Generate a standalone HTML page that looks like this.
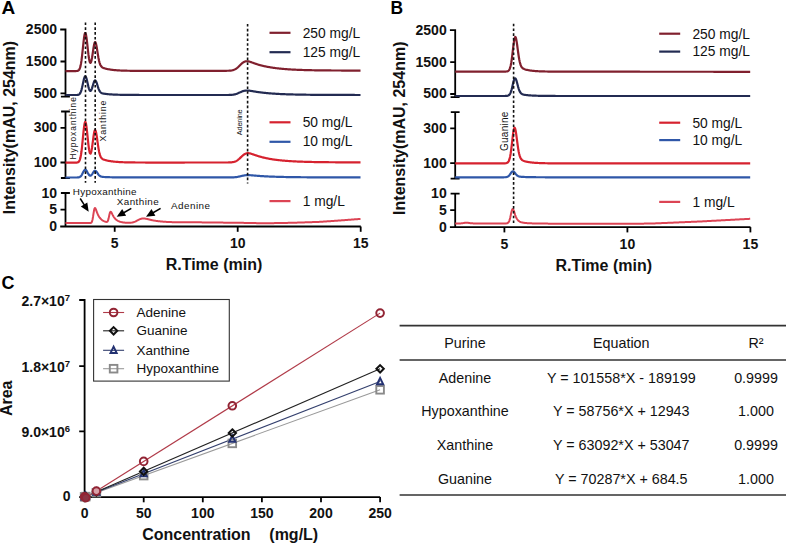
<!DOCTYPE html>
<html><head><meta charset="utf-8"><style>
html,body{margin:0;padding:0;background:#fff;}
svg{display:block;}
text{font-family:"Liberation Sans",sans-serif;}
.tb{font-size:14px;font-weight:bold;fill:#111;}
.tc{font-size:14px;font-weight:bold;fill:#111;}
.ttl{font-size:16px;font-weight:bold;fill:#111;}
.pl{font-size:18px;font-weight:bold;fill:#000;}
.leg{font-size:13.8px;fill:#111;}
.leg2{font-size:13.5px;fill:#111;}
.ann{font-size:8px;fill:#111;}
.ann2{font-size:9.9px;fill:#111;}
.tab{font-size:14.3px;fill:#111;}
</style></head>
<body><svg width="787" height="544" viewBox="0 0 787 544">
<text x="1.4" y="13.8" class="pl" style="font-size:19px">A</text>
<text x="390.6" y="13.8" class="pl" style="font-size:19px" textLength="12.6" lengthAdjust="spacingAndGlyphs">B</text>
<text x="1.5" y="288.9" class="pl">C</text>
<g transform="translate(0,0)">
<path d="M60.2,29.5 H65.5 V96.6 M60.5,61.5 H65.5 M60.5,93.4 H65.5 M60.9,96.6 H69.9" stroke="#000" stroke-width="1.8" fill="none"/>
<path d="M61.1,111.5 H69.9 M65.5,111.5 V178 M60.5,127.8 H65.5 M60.5,162.5 H65.5 M60.9,178 H69.9" stroke="#000" stroke-width="1.8" fill="none"/>
<path d="M60.9,193 H69.9 M65.5,193 V226.5 M60.5,209.6 H65.5 M60.2,226.5 H360.8" stroke="#000" stroke-width="1.8" fill="none"/>
<path d="M114.7,226.5 V231.8" stroke="#000" stroke-width="1.8" fill="none"/>
<path d="M237.7,226.5 V231.8" stroke="#000" stroke-width="1.8" fill="none"/>
<path d="M360.7,226.5 V231.8" stroke="#000" stroke-width="1.8" fill="none"/>
<text x="57.0" y="34.0" text-anchor="end" class="tb">2500</text>
<text x="57.0" y="66.0" text-anchor="end" class="tb">1500</text>
<text x="57.0" y="97.9" text-anchor="end" class="tb">500</text>
<text x="57.0" y="132.3" text-anchor="end" class="tb">300</text>
<text x="57.0" y="167.0" text-anchor="end" class="tb">100</text>
<text x="57.0" y="197.5" text-anchor="end" class="tb">10</text>
<text x="57.0" y="214.1" text-anchor="end" class="tb">5</text>
<text x="57.0" y="231.0" text-anchor="end" class="tb">0</text>
<text x="114.7" y="248" text-anchor="middle" class="tb">5</text>
<text x="237.7" y="248" text-anchor="middle" class="tb">10</text>
<text x="360.7" y="248" text-anchor="middle" class="tb">15</text>
<text x="214.0" y="270.3" text-anchor="middle" class="ttl">R.Time (min)</text>
<text transform="translate(14.5,127.5) rotate(-90)" text-anchor="middle" class="ttl">Intensity(mAU, 254nm)</text>
</g>
<path d="M269.5,32.8 H290.5" stroke="#80202e" stroke-width="2.2"/>
<text x="302.7" y="37.9" class="leg">250 mg/L</text>
<path d="M269.5,52.2 H290.5" stroke="#232b52" stroke-width="2.2"/>
<text x="302.7" y="56.6" class="leg">125 mg/L</text>
<path d="M269.5,122.3 H290.5" stroke="#d6222f" stroke-width="2.2"/>
<text x="302.7" y="126.9" class="leg">50 mg/L</text>
<path d="M269.5,141.8 H290.5" stroke="#2f57a8" stroke-width="2.2"/>
<text x="302.7" y="146.2" class="leg">10 mg/L</text>
<path d="M269.5,201.1 H290.5" stroke="#dc4454" stroke-width="2.2"/>
<text x="302.7" y="206.0" class="leg">1 mg/L</text>
<g transform="translate(0,0.6)">
<path d="M449.9,29.5 H455.2 V96.6 M450.2,61.5 H455.2 M450.2,93.4 H455.2 M450.59999999999997,96.6 H459.59999999999997" stroke="#000" stroke-width="1.8" fill="none"/>
<path d="M450.8,111.5 H459.59999999999997 M455.2,111.5 V178 M450.2,127.8 H455.2 M450.2,162.5 H455.2 M450.59999999999997,178 H459.59999999999997" stroke="#000" stroke-width="1.8" fill="none"/>
<path d="M450.59999999999997,193 H459.59999999999997 M455.2,193 V226.5 M450.2,209.6 H455.2 M449.9,226.5 H750.5" stroke="#000" stroke-width="1.8" fill="none"/>
<path d="M504.4,226.5 V231.8" stroke="#000" stroke-width="1.8" fill="none"/>
<path d="M627.4,226.5 V231.8" stroke="#000" stroke-width="1.8" fill="none"/>
<path d="M750.4,226.5 V231.8" stroke="#000" stroke-width="1.8" fill="none"/>
<text x="446.7" y="34.0" text-anchor="end" class="tb">2500</text>
<text x="446.7" y="66.0" text-anchor="end" class="tb">1500</text>
<text x="446.7" y="97.9" text-anchor="end" class="tb">500</text>
<text x="446.7" y="132.3" text-anchor="end" class="tb">300</text>
<text x="446.7" y="167.0" text-anchor="end" class="tb">100</text>
<text x="446.7" y="197.5" text-anchor="end" class="tb">10</text>
<text x="446.7" y="214.1" text-anchor="end" class="tb">5</text>
<text x="446.7" y="231.0" text-anchor="end" class="tb">0</text>
<text x="504.4" y="248" text-anchor="middle" class="tb">5</text>
<text x="627.4" y="248" text-anchor="middle" class="tb">10</text>
<text x="750.4" y="248" text-anchor="middle" class="tb">15</text>
<text x="603.7" y="270.3" text-anchor="middle" class="ttl">R.Time (min)</text>
<text transform="translate(405.2,127.6) rotate(-90)" text-anchor="middle" class="ttl">Intensity(mAU, 254nm)</text>
</g>
<path d="M659.2,33.7 H680.2" stroke="#80202e" stroke-width="2.2"/>
<text x="692.4" y="38.5" class="leg">250 mg/L</text>
<path d="M659.2,51.6 H680.2" stroke="#232b52" stroke-width="2.2"/>
<text x="692.4" y="56.3" class="leg">125 mg/L</text>
<path d="M659.2,122.7 H680.2" stroke="#d6222f" stroke-width="2.2"/>
<text x="692.4" y="127.8" class="leg">50 mg/L</text>
<path d="M659.2,140.1 H680.2" stroke="#2f57a8" stroke-width="2.2"/>
<text x="692.4" y="144.6" class="leg">10 mg/L</text>
<path d="M659.2,201.9 H680.2" stroke="#dc4454" stroke-width="2.2"/>
<text x="692.4" y="206.9" class="leg">1 mg/L</text>
<path d="M65.5,71.20 L66.0,71.19 L66.5,71.19 L67.0,71.18 L67.5,71.17 L68.0,71.17 L68.5,71.16 L69.0,71.15 L69.5,71.14 L70.0,71.14 L70.5,71.13 L71.0,71.12 L71.5,71.12 L72.0,71.11 L72.5,71.10 L73.0,71.10 L73.5,71.09 L74.0,71.08 L74.5,71.07 L75.0,71.07 L75.5,71.06 L76.0,71.04 L76.5,71.01 L77.0,70.96 L77.5,70.88 L78.0,70.71 L78.5,70.42 L79.0,69.93 L79.5,69.13 L80.0,67.90 L80.5,66.12 L81.0,63.64 L81.5,60.41 L82.0,56.45 L82.5,51.89 L83.0,47.03 L83.5,42.25 L84.0,38.04 L84.5,34.88 L85.0,33.14 L85.5,33.05 L86.0,34.60 L86.5,37.57 L87.0,41.57 L87.5,46.13 L88.0,50.75 L88.5,54.99 L89.0,58.50 L89.5,61.05 L90.0,62.53 L90.5,62.88 L91.0,62.15 L91.5,60.43 L92.0,57.88 L92.5,54.73 L93.0,51.31 L93.5,47.97 L94.0,45.10 L94.5,43.06 L95.0,42.11 L95.5,42.35 L96.0,43.72 L96.5,46.00 L97.0,48.89 L97.5,52.06 L98.0,55.19 L98.5,58.05 L99.0,60.50 L99.5,62.49 L100.0,64.04 L100.5,65.20 L101.0,66.05 L101.5,66.67 L102.0,67.13 L102.5,67.47 L103.0,67.74 L103.5,67.96 L104.0,68.14 L104.5,68.31 L105.0,68.46 L105.5,68.60 L106.0,68.73 L106.5,68.85 L107.0,68.97 L107.5,69.07 L108.0,69.18 L108.5,69.27 L109.0,69.36 L109.5,69.45 L110.0,69.53 L110.5,69.61 L111.0,69.68 L111.5,69.75 L112.0,69.82 L112.5,69.88 L113.0,69.94 L113.5,69.99 L114.0,70.04 L114.5,70.09 L115.0,70.14 L115.5,70.18 L116.0,70.22 L116.5,70.26 L117.0,70.30 L117.5,70.33 L118.0,70.37 L118.5,70.40 L119.0,70.43 L119.5,70.45 L120.0,70.48 L120.5,70.50 L121.0,70.53 L121.5,70.55 L122.0,70.57 L122.5,70.59 L123.0,70.61 L123.5,70.63 L124.0,70.64 L124.5,70.66 L125.0,70.67 L125.5,70.69 L126.0,70.70 L126.5,70.71 L127.0,70.72 L127.5,70.73 L128.0,70.74 L128.5,70.75 L129.0,70.76 L129.5,70.77 L130.0,70.78 L130.5,70.79 L131.0,70.79 L131.5,70.80 L132.0,70.81 L132.5,70.81 L133.0,70.82 L133.5,70.82 L134.0,70.83 L134.5,70.83 L135.0,70.84 L135.5,70.84 L136.0,70.84 L136.5,70.85 L137.0,70.85 L137.5,70.85 L138.0,70.86 L138.5,70.86 L139.0,70.86 L139.5,70.86 L140.0,70.87 L140.5,70.87 L141.0,70.87 L141.5,70.87 L142.0,70.87 L142.5,70.87 L143.0,70.88 L143.5,70.88 L144.0,70.88 L144.5,70.88 L145.0,70.88 L145.5,70.88 L146.0,70.88 L146.5,70.88 L147.0,70.88 L147.5,70.88 L148.0,70.88 L148.5,70.88 L149.0,70.88 L149.5,70.88 L150.0,70.88 L150.5,70.88 L151.0,70.88 L151.5,70.88 L152.0,70.88 L152.5,70.88 L153.0,70.88 L153.5,70.88 L154.0,70.88 L154.5,70.88 L155.0,70.88 L155.5,70.88 L156.0,70.88 L156.5,70.88 L157.0,70.88 L157.5,70.88 L158.0,70.88 L158.5,70.88 L159.0,70.88 L159.5,70.88 L160.0,70.88 L160.5,70.88 L161.0,70.88 L161.5,70.88 L162.0,70.88 L162.5,70.88 L163.0,70.88 L163.5,70.88 L164.0,70.88 L164.5,70.88 L165.0,70.88 L165.5,70.88 L166.0,70.87 L166.5,70.87 L167.0,70.87 L167.5,70.87 L168.0,70.87 L168.5,70.87 L169.0,70.87 L169.5,70.87 L170.0,70.87 L170.5,70.87 L171.0,70.87 L171.5,70.87 L172.0,70.87 L172.5,70.87 L173.0,70.87 L173.5,70.87 L174.0,70.86 L174.5,70.86 L175.0,70.86 L175.5,70.86 L176.0,70.86 L176.5,70.86 L177.0,70.86 L177.5,70.86 L178.0,70.86 L178.5,70.86 L179.0,70.86 L179.5,70.86 L180.0,70.86 L180.5,70.86 L181.0,70.86 L181.5,70.85 L182.0,70.85 L182.5,70.85 L183.0,70.85 L183.5,70.85 L184.0,70.85 L184.5,70.85 L185.0,70.85 L185.5,70.85 L186.0,70.85 L186.5,70.85 L187.0,70.85 L187.5,70.85 L188.0,70.85 L188.5,70.85 L189.0,70.84 L189.5,70.84 L190.0,70.84 L190.5,70.84 L191.0,70.84 L191.5,70.84 L192.0,70.84 L192.5,70.84 L193.0,70.84 L193.5,70.84 L194.0,70.84 L194.5,70.84 L195.0,70.84 L195.5,70.84 L196.0,70.83 L196.5,70.83 L197.0,70.83 L197.5,70.83 L198.0,70.83 L198.5,70.83 L199.0,70.83 L199.5,70.83 L200.0,70.83 L200.5,70.83 L201.0,70.83 L201.5,70.83 L202.0,70.83 L202.5,70.83 L203.0,70.82 L203.5,70.82 L204.0,70.82 L204.5,70.82 L205.0,70.82 L205.5,70.82 L206.0,70.82 L206.5,70.82 L207.0,70.82 L207.5,70.82 L208.0,70.82 L208.5,70.82 L209.0,70.82 L209.5,70.82 L210.0,70.81 L210.5,70.81 L211.0,70.81 L211.5,70.81 L212.0,70.81 L212.5,70.81 L213.0,70.81 L213.5,70.81 L214.0,70.81 L214.5,70.81 L215.0,70.81 L215.5,70.81 L216.0,70.81 L216.5,70.81 L217.0,70.80 L217.5,70.80 L218.0,70.80 L218.5,70.80 L219.0,70.80 L219.5,70.80 L220.0,70.80 L220.5,70.80 L221.0,70.80 L221.5,70.80 L222.0,70.80 L222.5,70.80 L223.0,70.80 L223.5,70.79 L224.0,70.79 L224.5,70.79 L225.0,70.79 L225.5,70.79 L226.0,70.78 L226.5,70.78 L227.0,70.77 L227.5,70.76 L228.0,70.75 L228.5,70.74 L229.0,70.72 L229.5,70.69 L230.0,70.66 L230.5,70.61 L231.0,70.56 L231.5,70.49 L232.0,70.40 L232.5,70.29 L233.0,70.16 L233.5,70.01 L234.0,69.82 L234.5,69.61 L235.0,69.36 L235.5,69.08 L236.0,68.76 L236.5,68.41 L237.0,68.02 L237.5,67.60 L238.0,67.16 L238.5,66.70 L239.0,66.21 L239.5,65.72 L240.0,65.22 L240.5,64.73 L241.0,64.25 L241.5,63.79 L242.0,63.35 L242.5,62.95 L243.0,62.58 L243.5,62.26 L244.0,61.98 L244.5,61.74 L245.0,61.56 L245.5,61.42 L246.0,61.33 L246.5,61.27 L247.0,61.26 L247.5,61.29 L248.0,61.34 L248.5,61.43 L249.0,61.54 L249.5,61.66 L250.0,61.81 L250.5,61.96 L251.0,62.13 L251.5,62.30 L252.0,62.48 L252.5,62.66 L253.0,62.84 L253.5,63.02 L254.0,63.20 L254.5,63.37 L255.0,63.55 L255.5,63.72 L256.0,63.89 L256.5,64.05 L257.0,64.22 L257.5,64.37 L258.0,64.53 L258.5,64.68 L259.0,64.82 L259.5,64.97 L260.0,65.11 L260.5,65.24 L261.0,65.38 L261.5,65.51 L262.0,65.63 L262.5,65.76 L263.0,65.88 L263.5,65.99 L264.0,66.11 L264.5,66.22 L265.0,66.33 L265.5,66.44 L266.0,66.54 L266.5,66.64 L267.0,66.74 L267.5,66.84 L268.0,66.93 L268.5,67.02 L269.0,67.11 L269.5,67.20 L270.0,67.28 L270.5,67.37 L271.0,67.45 L271.5,67.53 L272.0,67.61 L272.5,67.68 L273.0,67.75 L273.5,67.83 L274.0,67.90 L274.5,67.96 L275.0,68.03 L275.5,68.09 L276.0,68.16 L276.5,68.22 L277.0,68.28 L277.5,68.34 L278.0,68.40 L278.5,68.45 L279.0,68.51 L279.5,68.56 L280.0,68.61 L280.5,68.66 L281.0,68.71 L281.5,68.76 L282.0,68.81 L282.5,68.85 L283.0,68.90 L283.5,68.94 L284.0,68.98 L284.5,69.02 L285.0,69.06 L285.5,69.10 L286.0,69.14 L286.5,69.18 L287.0,69.21 L287.5,69.25 L288.0,69.28 L288.5,69.32 L289.0,69.35 L289.5,69.38 L290.0,69.41 L290.5,69.45 L291.0,69.48 L291.5,69.50 L292.0,69.53 L292.5,69.56 L293.0,69.59 L293.5,69.61 L294.0,69.64 L294.5,69.66 L295.0,69.69 L295.5,69.71 L296.0,69.74 L296.5,69.76 L297.0,69.78 L297.5,69.80 L298.0,69.82 L298.5,69.84 L299.0,69.86 L299.5,69.88 L300.0,69.90 L300.5,69.92 L301.0,69.94 L301.5,69.95 L302.0,69.97 L302.5,69.99 L303.0,70.00 L303.5,70.02 L304.0,70.04 L304.5,70.05 L305.0,70.07 L305.5,70.08 L306.0,70.09 L306.5,70.11 L307.0,70.12 L307.5,70.13 L308.0,70.15 L308.5,70.16 L309.0,70.17 L309.5,70.18 L310.0,70.19 L310.5,70.20 L311.0,70.21 L311.5,70.22 L312.0,70.23 L312.5,70.24 L313.0,70.25 L313.5,70.26 L314.0,70.27 L314.5,70.28 L315.0,70.29 L315.5,70.30 L316.0,70.31 L316.5,70.31 L317.0,70.32 L317.5,70.33 L318.0,70.34 L318.5,70.34 L319.0,70.35 L319.5,70.36 L320.0,70.36 L320.5,70.37 L321.0,70.38 L321.5,70.38 L322.0,70.39 L322.5,70.40 L323.0,70.40 L323.5,70.41 L324.0,70.41 L324.5,70.42 L325.0,70.42 L325.5,70.43 L326.0,70.43 L326.5,70.44 L327.0,70.44 L327.5,70.44 L328.0,70.45 L328.5,70.45 L329.0,70.46 L329.5,70.46 L330.0,70.46 L330.5,70.47 L331.0,70.47 L331.5,70.48 L332.0,70.48 L332.5,70.48 L333.0,70.48 L333.5,70.49 L334.0,70.49 L334.5,70.49 L335.0,70.50 L335.5,70.50 L336.0,70.50 L336.5,70.50 L337.0,70.51 L337.5,70.51 L338.0,70.51 L338.5,70.51 L339.0,70.52 L339.5,70.52 L340.0,70.52 L340.5,70.52 L341.0,70.52 L341.5,70.53 L342.0,70.53 L342.5,70.53 L343.0,70.53 L343.5,70.53 L344.0,70.53 L344.5,70.54 L345.0,70.54 L345.5,70.54 L346.0,70.54 L346.5,70.54 L347.0,70.54 L347.5,70.54 L348.0,70.54 L348.5,70.55 L349.0,70.55 L349.5,70.55 L350.0,70.55 L350.5,70.55 L351.0,70.55 L351.5,70.55 L352.0,70.55 L352.5,70.55 L353.0,70.55 L353.5,70.55 L354.0,70.55 L354.5,70.56 L355.0,70.56 L355.5,70.56 L356.0,70.56 L356.5,70.56 L357.0,70.56 L357.5,70.56 L358.0,70.56 L358.5,70.56 L359.0,70.56 L359.5,70.56 L360.0,70.56 L360.5,70.56" fill="none" stroke="#80202e" stroke-width="2.2" stroke-linejoin="round" />
<path d="M65.5,95.00 L66.0,95.00 L66.5,95.00 L67.0,95.00 L67.5,95.00 L68.0,95.00 L68.5,95.00 L69.0,95.00 L69.5,95.00 L70.0,95.00 L70.5,95.00 L71.0,95.00 L71.5,95.00 L72.0,95.00 L72.5,95.00 L73.0,95.00 L73.5,95.00 L74.0,95.00 L74.5,95.00 L75.0,95.00 L75.5,95.00 L76.0,94.99 L76.5,94.98 L77.0,94.96 L77.5,94.92 L78.0,94.84 L78.5,94.71 L79.0,94.47 L79.5,94.08 L80.0,93.48 L80.5,92.60 L81.0,91.39 L81.5,89.81 L82.0,87.86 L82.5,85.62 L83.0,83.24 L83.5,80.89 L84.0,78.83 L84.5,77.27 L85.0,76.42 L85.5,76.38 L86.0,77.14 L86.5,78.59 L87.0,80.56 L87.5,82.80 L88.0,85.06 L88.5,87.13 L89.0,88.84 L89.5,90.08 L90.0,90.78 L90.5,90.92 L91.0,90.52 L91.5,89.62 L92.0,88.31 L92.5,86.70 L93.0,84.96 L93.5,83.28 L94.0,81.84 L94.5,80.83 L95.0,80.37 L95.5,80.52 L96.0,81.25 L96.5,82.43 L97.0,83.92 L97.5,85.55 L98.0,87.15 L98.5,88.61 L99.0,89.86 L99.5,90.87 L100.0,91.65 L100.5,92.24 L101.0,92.67 L101.5,92.98 L102.0,93.20 L102.5,93.37 L103.0,93.50 L103.5,93.60 L104.0,93.69 L104.5,93.77 L105.0,93.84 L105.5,93.90 L106.0,93.96 L106.5,94.02 L107.0,94.07 L107.5,94.12 L108.0,94.17 L108.5,94.22 L109.0,94.26 L109.5,94.30 L110.0,94.34 L110.5,94.37 L111.0,94.41 L111.5,94.44 L112.0,94.47 L112.5,94.50 L113.0,94.53 L113.5,94.55 L114.0,94.58 L114.5,94.60 L115.0,94.62 L115.5,94.64 L116.0,94.66 L116.5,94.68 L117.0,94.70 L117.5,94.72 L118.0,94.73 L118.5,94.75 L119.0,94.76 L119.5,94.77 L120.0,94.78 L120.5,94.80 L121.0,94.81 L121.5,94.82 L122.0,94.83 L122.5,94.84 L123.0,94.85 L123.5,94.85 L124.0,94.86 L124.5,94.87 L125.0,94.88 L125.5,94.88 L126.0,94.89 L126.5,94.90 L127.0,94.90 L127.5,94.91 L128.0,94.91 L128.5,94.92 L129.0,94.92 L129.5,94.93 L130.0,94.93 L130.5,94.93 L131.0,94.94 L131.5,94.94 L132.0,94.94 L132.5,94.95 L133.0,94.95 L133.5,94.95 L134.0,94.96 L134.5,94.96 L135.0,94.96 L135.5,94.96 L136.0,94.96 L136.5,94.97 L137.0,94.97 L137.5,94.97 L138.0,94.97 L138.5,94.97 L139.0,94.97 L139.5,94.98 L140.0,94.98 L140.5,94.98 L141.0,94.98 L141.5,94.98 L142.0,94.98 L142.5,94.98 L143.0,94.98 L143.5,94.98 L144.0,94.99 L144.5,94.99 L145.0,94.99 L145.5,94.99 L146.0,94.99 L146.5,94.99 L147.0,94.99 L147.5,94.99 L148.0,94.99 L148.5,94.99 L149.0,94.99 L149.5,94.99 L150.0,94.99 L150.5,94.99 L151.0,94.99 L151.5,94.99 L152.0,94.99 L152.5,94.99 L153.0,94.99 L153.5,95.00 L154.0,95.00 L154.5,95.00 L155.0,95.00 L155.5,95.00 L156.0,95.00 L156.5,95.00 L157.0,95.00 L157.5,95.00 L158.0,95.00 L158.5,95.00 L159.0,95.00 L159.5,95.00 L160.0,95.00 L160.5,95.00 L161.0,95.00 L161.5,95.00 L162.0,95.00 L162.5,95.00 L163.0,95.00 L163.5,95.00 L164.0,95.00 L164.5,95.00 L165.0,95.00 L165.5,95.00 L166.0,95.00 L166.5,95.00 L167.0,95.00 L167.5,95.00 L168.0,95.00 L168.5,95.00 L169.0,95.00 L169.5,95.00 L170.0,95.00 L170.5,95.00 L171.0,95.00 L171.5,95.00 L172.0,95.00 L172.5,95.00 L173.0,95.00 L173.5,95.00 L174.0,95.00 L174.5,95.00 L175.0,95.00 L175.5,95.00 L176.0,95.00 L176.5,95.00 L177.0,95.00 L177.5,95.00 L178.0,95.00 L178.5,95.00 L179.0,95.00 L179.5,95.00 L180.0,95.00 L180.5,95.00 L181.0,95.00 L181.5,95.00 L182.0,95.00 L182.5,95.00 L183.0,95.00 L183.5,95.00 L184.0,95.00 L184.5,95.00 L185.0,95.00 L185.5,95.00 L186.0,95.00 L186.5,95.00 L187.0,95.00 L187.5,95.00 L188.0,95.00 L188.5,95.00 L189.0,95.00 L189.5,95.00 L190.0,95.00 L190.5,95.00 L191.0,95.00 L191.5,95.00 L192.0,95.00 L192.5,95.00 L193.0,95.00 L193.5,95.00 L194.0,95.00 L194.5,95.00 L195.0,95.00 L195.5,95.00 L196.0,95.00 L196.5,95.00 L197.0,95.00 L197.5,95.00 L198.0,95.00 L198.5,95.00 L199.0,95.00 L199.5,95.00 L200.0,95.00 L200.5,95.00 L201.0,95.00 L201.5,95.00 L202.0,95.00 L202.5,95.00 L203.0,95.00 L203.5,95.00 L204.0,95.00 L204.5,95.00 L205.0,95.00 L205.5,95.00 L206.0,95.00 L206.5,95.00 L207.0,95.00 L207.5,95.00 L208.0,95.00 L208.5,95.00 L209.0,95.00 L209.5,95.00 L210.0,95.00 L210.5,95.00 L211.0,95.00 L211.5,95.00 L212.0,95.00 L212.5,95.00 L213.0,95.00 L213.5,95.00 L214.0,95.00 L214.5,95.00 L215.0,95.00 L215.5,95.00 L216.0,95.00 L216.5,95.00 L217.0,95.00 L217.5,95.00 L218.0,95.00 L218.5,95.00 L219.0,95.00 L219.5,95.00 L220.0,95.00 L220.5,95.00 L221.0,95.00 L221.5,95.00 L222.0,95.00 L222.5,95.00 L223.0,95.00 L223.5,95.00 L224.0,95.00 L224.5,95.00 L225.0,95.00 L225.5,95.00 L226.0,95.00 L226.5,94.99 L227.0,94.99 L227.5,94.99 L228.0,94.98 L228.5,94.98 L229.0,94.97 L229.5,94.95 L230.0,94.94 L230.5,94.92 L231.0,94.89 L231.5,94.86 L232.0,94.82 L232.5,94.77 L233.0,94.71 L233.5,94.63 L234.0,94.55 L234.5,94.44 L235.0,94.33 L235.5,94.19 L236.0,94.04 L236.5,93.88 L237.0,93.69 L237.5,93.50 L238.0,93.29 L238.5,93.07 L239.0,92.84 L239.5,92.61 L240.0,92.37 L240.5,92.14 L241.0,91.91 L241.5,91.69 L242.0,91.49 L242.5,91.29 L243.0,91.12 L243.5,90.97 L244.0,90.84 L244.5,90.73 L245.0,90.64 L245.5,90.57 L246.0,90.53 L246.5,90.51 L247.0,90.50 L247.5,90.51 L248.0,90.54 L248.5,90.58 L249.0,90.63 L249.5,90.69 L250.0,90.76 L250.5,90.83 L251.0,90.91 L251.5,91.00 L252.0,91.08 L252.5,91.16 L253.0,91.25 L253.5,91.34 L254.0,91.42 L254.5,91.51 L255.0,91.59 L255.5,91.67 L256.0,91.75 L256.5,91.83 L257.0,91.91 L257.5,91.98 L258.0,92.05 L258.5,92.13 L259.0,92.20 L259.5,92.26 L260.0,92.33 L260.5,92.39 L261.0,92.46 L261.5,92.52 L262.0,92.58 L262.5,92.64 L263.0,92.70 L263.5,92.75 L264.0,92.81 L264.5,92.86 L265.0,92.91 L265.5,92.96 L266.0,93.01 L266.5,93.06 L267.0,93.11 L267.5,93.15 L268.0,93.20 L268.5,93.24 L269.0,93.29 L269.5,93.33 L270.0,93.37 L270.5,93.41 L271.0,93.45 L271.5,93.48 L272.0,93.52 L272.5,93.56 L273.0,93.59 L273.5,93.63 L274.0,93.66 L274.5,93.69 L275.0,93.72 L275.5,93.76 L276.0,93.79 L276.5,93.82 L277.0,93.84 L277.5,93.87 L278.0,93.90 L278.5,93.93 L279.0,93.95 L279.5,93.98 L280.0,94.00 L280.5,94.03 L281.0,94.05 L281.5,94.07 L282.0,94.10 L282.5,94.12 L283.0,94.14 L283.5,94.16 L284.0,94.18 L284.5,94.20 L285.0,94.22 L285.5,94.24 L286.0,94.26 L286.5,94.28 L287.0,94.29 L287.5,94.31 L288.0,94.33 L288.5,94.34 L289.0,94.36 L289.5,94.38 L290.0,94.39 L290.5,94.41 L291.0,94.42 L291.5,94.43 L292.0,94.45 L292.5,94.46 L293.0,94.47 L293.5,94.49 L294.0,94.50 L294.5,94.51 L295.0,94.52 L295.5,94.54 L296.0,94.55 L296.5,94.56 L297.0,94.57 L297.5,94.58 L298.0,94.59 L298.5,94.60 L299.0,94.61 L299.5,94.62 L300.0,94.63 L300.5,94.64 L301.0,94.65 L301.5,94.65 L302.0,94.66 L302.5,94.67 L303.0,94.68 L303.5,94.69 L304.0,94.69 L304.5,94.70 L305.0,94.71 L305.5,94.72 L306.0,94.72 L306.5,94.73 L307.0,94.74 L307.5,94.74 L308.0,94.75 L308.5,94.76 L309.0,94.76 L309.5,94.77 L310.0,94.77 L310.5,94.78 L311.0,94.78 L311.5,94.79 L312.0,94.79 L312.5,94.80 L313.0,94.80 L313.5,94.81 L314.0,94.81 L314.5,94.82 L315.0,94.82 L315.5,94.83 L316.0,94.83 L316.5,94.83 L317.0,94.84 L317.5,94.84 L318.0,94.85 L318.5,94.85 L319.0,94.85 L319.5,94.86 L320.0,94.86 L320.5,94.86 L321.0,94.87 L321.5,94.87 L322.0,94.87 L322.5,94.88 L323.0,94.88 L323.5,94.88 L324.0,94.89 L324.5,94.89 L325.0,94.89 L325.5,94.89 L326.0,94.90 L326.5,94.90 L327.0,94.90 L327.5,94.90 L328.0,94.91 L328.5,94.91 L329.0,94.91 L329.5,94.91 L330.0,94.92 L330.5,94.92 L331.0,94.92 L331.5,94.92 L332.0,94.92 L332.5,94.92 L333.0,94.93 L333.5,94.93 L334.0,94.93 L334.5,94.93 L335.0,94.93 L335.5,94.94 L336.0,94.94 L336.5,94.94 L337.0,94.94 L337.5,94.94 L338.0,94.94 L338.5,94.94 L339.0,94.95 L339.5,94.95 L340.0,94.95 L340.5,94.95 L341.0,94.95 L341.5,94.95 L342.0,94.95 L342.5,94.95 L343.0,94.96 L343.5,94.96 L344.0,94.96 L344.5,94.96 L345.0,94.96 L345.5,94.96 L346.0,94.96 L346.5,94.96 L347.0,94.96 L347.5,94.96 L348.0,94.97 L348.5,94.97 L349.0,94.97 L349.5,94.97 L350.0,94.97 L350.5,94.97 L351.0,94.97 L351.5,94.97 L352.0,94.97 L352.5,94.97 L353.0,94.97 L353.5,94.97 L354.0,94.97 L354.5,94.97 L355.0,94.98 L355.5,94.98 L356.0,94.98 L356.5,94.98 L357.0,94.98 L357.5,94.98 L358.0,94.98 L358.5,94.98 L359.0,94.98 L359.5,94.98 L360.0,94.98 L360.5,94.98" fill="none" stroke="#232b52" stroke-width="2.2" stroke-linejoin="round" />
<path d="M65.5,162.70 L66.0,162.70 L66.5,162.69 L67.0,162.69 L67.5,162.69 L68.0,162.68 L68.5,162.68 L69.0,162.68 L69.5,162.67 L70.0,162.67 L70.5,162.67 L71.0,162.66 L71.5,162.66 L72.0,162.66 L72.5,162.65 L73.0,162.65 L73.5,162.64 L74.0,162.64 L74.5,162.64 L75.0,162.63 L75.5,162.62 L76.0,162.61 L76.5,162.59 L77.0,162.54 L77.5,162.45 L78.0,162.28 L78.5,161.97 L79.0,161.44 L79.5,160.59 L80.0,159.28 L80.5,157.37 L81.0,154.72 L81.5,151.27 L82.0,147.02 L82.5,142.14 L83.0,136.93 L83.5,131.82 L84.0,127.31 L84.5,123.92 L85.0,122.07 L85.5,121.97 L86.0,123.62 L86.5,126.80 L87.0,131.09 L87.5,135.96 L88.0,140.90 L88.5,145.42 L89.0,149.14 L89.5,151.83 L90.0,153.33 L90.5,153.60 L91.0,152.68 L91.5,150.67 L92.0,147.74 L92.5,144.16 L93.0,140.29 L93.5,136.53 L94.0,133.33 L94.5,131.08 L95.0,130.07 L95.5,130.40 L96.0,132.01 L96.5,134.64 L97.0,137.95 L97.5,141.56 L98.0,145.12 L98.5,148.36 L99.0,151.14 L99.5,153.39 L100.0,155.13 L100.5,156.44 L101.0,157.39 L101.5,158.07 L102.0,158.57 L102.5,158.94 L103.0,159.23 L103.5,159.46 L104.0,159.66 L104.5,159.83 L105.0,159.99 L105.5,160.13 L106.0,160.27 L106.5,160.39 L107.0,160.51 L107.5,160.63 L108.0,160.73 L108.5,160.83 L109.0,160.93 L109.5,161.02 L110.0,161.10 L110.5,161.18 L111.0,161.26 L111.5,161.33 L112.0,161.40 L112.5,161.46 L113.0,161.52 L113.5,161.58 L114.0,161.63 L114.5,161.69 L115.0,161.73 L115.5,161.78 L116.0,161.82 L116.5,161.86 L117.0,161.90 L117.5,161.94 L118.0,161.97 L118.5,162.00 L119.0,162.04 L119.5,162.06 L120.0,162.09 L120.5,162.12 L121.0,162.14 L121.5,162.17 L122.0,162.19 L122.5,162.21 L123.0,162.23 L123.5,162.25 L124.0,162.26 L124.5,162.28 L125.0,162.29 L125.5,162.31 L126.0,162.32 L126.5,162.34 L127.0,162.35 L127.5,162.36 L128.0,162.37 L128.5,162.38 L129.0,162.39 L129.5,162.40 L130.0,162.41 L130.5,162.42 L131.0,162.42 L131.5,162.43 L132.0,162.44 L132.5,162.44 L133.0,162.45 L133.5,162.46 L134.0,162.46 L134.5,162.47 L135.0,162.47 L135.5,162.48 L136.0,162.48 L136.5,162.48 L137.0,162.49 L137.5,162.49 L138.0,162.50 L138.5,162.50 L139.0,162.50 L139.5,162.50 L140.0,162.51 L140.5,162.51 L141.0,162.51 L141.5,162.51 L142.0,162.52 L142.5,162.52 L143.0,162.52 L143.5,162.52 L144.0,162.52 L144.5,162.52 L145.0,162.52 L145.5,162.53 L146.0,162.53 L146.5,162.53 L147.0,162.53 L147.5,162.53 L148.0,162.53 L148.5,162.53 L149.0,162.53 L149.5,162.53 L150.0,162.53 L150.5,162.53 L151.0,162.53 L151.5,162.54 L152.0,162.54 L152.5,162.54 L153.0,162.54 L153.5,162.54 L154.0,162.54 L154.5,162.54 L155.0,162.54 L155.5,162.54 L156.0,162.54 L156.5,162.54 L157.0,162.54 L157.5,162.54 L158.0,162.54 L158.5,162.54 L159.0,162.54 L159.5,162.54 L160.0,162.54 L160.5,162.54 L161.0,162.54 L161.5,162.54 L162.0,162.54 L162.5,162.54 L163.0,162.54 L163.5,162.54 L164.0,162.54 L164.5,162.54 L165.0,162.54 L165.5,162.54 L166.0,162.54 L166.5,162.54 L167.0,162.54 L167.5,162.54 L168.0,162.54 L168.5,162.53 L169.0,162.53 L169.5,162.53 L170.0,162.53 L170.5,162.53 L171.0,162.53 L171.5,162.53 L172.0,162.53 L172.5,162.53 L173.0,162.53 L173.5,162.53 L174.0,162.53 L174.5,162.53 L175.0,162.53 L175.5,162.53 L176.0,162.53 L176.5,162.53 L177.0,162.53 L177.5,162.53 L178.0,162.53 L178.5,162.53 L179.0,162.53 L179.5,162.53 L180.0,162.53 L180.5,162.53 L181.0,162.53 L181.5,162.53 L182.0,162.53 L182.5,162.53 L183.0,162.53 L183.5,162.53 L184.0,162.53 L184.5,162.53 L185.0,162.52 L185.5,162.52 L186.0,162.52 L186.5,162.52 L187.0,162.52 L187.5,162.52 L188.0,162.52 L188.5,162.52 L189.0,162.52 L189.5,162.52 L190.0,162.52 L190.5,162.52 L191.0,162.52 L191.5,162.52 L192.0,162.52 L192.5,162.52 L193.0,162.52 L193.5,162.52 L194.0,162.52 L194.5,162.52 L195.0,162.52 L195.5,162.52 L196.0,162.52 L196.5,162.52 L197.0,162.52 L197.5,162.52 L198.0,162.52 L198.5,162.52 L199.0,162.52 L199.5,162.51 L200.0,162.51 L200.5,162.51 L201.0,162.51 L201.5,162.51 L202.0,162.51 L202.5,162.51 L203.0,162.51 L203.5,162.51 L204.0,162.51 L204.5,162.51 L205.0,162.51 L205.5,162.51 L206.0,162.51 L206.5,162.51 L207.0,162.51 L207.5,162.51 L208.0,162.51 L208.5,162.51 L209.0,162.51 L209.5,162.51 L210.0,162.51 L210.5,162.51 L211.0,162.51 L211.5,162.51 L212.0,162.51 L212.5,162.51 L213.0,162.51 L213.5,162.50 L214.0,162.50 L214.5,162.50 L215.0,162.50 L215.5,162.50 L216.0,162.50 L216.5,162.50 L217.0,162.50 L217.5,162.50 L218.0,162.50 L218.5,162.50 L219.0,162.50 L219.5,162.50 L220.0,162.50 L220.5,162.50 L221.0,162.50 L221.5,162.50 L222.0,162.50 L222.5,162.50 L223.0,162.50 L223.5,162.50 L224.0,162.50 L224.5,162.50 L225.0,162.50 L225.5,162.49 L226.0,162.49 L226.5,162.49 L227.0,162.49 L227.5,162.48 L228.0,162.48 L228.5,162.47 L229.0,162.46 L229.5,162.45 L230.0,162.43 L230.5,162.40 L231.0,162.37 L231.5,162.33 L232.0,162.28 L232.5,162.21 L233.0,162.13 L233.5,162.03 L234.0,161.91 L234.5,161.76 L235.0,161.59 L235.5,161.38 L236.0,161.15 L236.5,160.88 L237.0,160.58 L237.5,160.24 L238.0,159.87 L238.5,159.47 L239.0,159.04 L239.5,158.59 L240.0,158.12 L240.5,157.64 L241.0,157.15 L241.5,156.67 L242.0,156.19 L242.5,155.74 L243.0,155.30 L243.5,154.90 L244.0,154.54 L244.5,154.21 L245.0,153.93 L245.5,153.69 L246.0,153.50 L246.5,153.36 L247.0,153.26 L247.5,153.20 L248.0,153.18 L248.5,153.20 L249.0,153.25 L249.5,153.33 L250.0,153.43 L250.5,153.55 L251.0,153.69 L251.5,153.84 L252.0,154.00 L252.5,154.17 L253.0,154.34 L253.5,154.52 L254.0,154.69 L254.5,154.87 L255.0,155.05 L255.5,155.22 L256.0,155.39 L256.5,155.56 L257.0,155.73 L257.5,155.89 L258.0,156.05 L258.5,156.20 L259.0,156.35 L259.5,156.50 L260.0,156.65 L260.5,156.79 L261.0,156.93 L261.5,157.06 L262.0,157.19 L262.5,157.32 L263.0,157.44 L263.5,157.57 L264.0,157.69 L264.5,157.80 L265.0,157.91 L265.5,158.02 L266.0,158.13 L266.5,158.24 L267.0,158.34 L267.5,158.44 L268.0,158.54 L268.5,158.63 L269.0,158.73 L269.5,158.82 L270.0,158.91 L270.5,158.99 L271.0,159.08 L271.5,159.16 L272.0,159.24 L272.5,159.32 L273.0,159.39 L273.5,159.47 L274.0,159.54 L274.5,159.61 L275.0,159.68 L275.5,159.75 L276.0,159.81 L276.5,159.88 L277.0,159.94 L277.5,160.00 L278.0,160.06 L278.5,160.12 L279.0,160.17 L279.5,160.23 L280.0,160.28 L280.5,160.34 L281.0,160.39 L281.5,160.44 L282.0,160.49 L282.5,160.53 L283.0,160.58 L283.5,160.62 L284.0,160.67 L284.5,160.71 L285.0,160.75 L285.5,160.79 L286.0,160.83 L286.5,160.87 L287.0,160.91 L287.5,160.95 L288.0,160.99 L288.5,161.02 L289.0,161.06 L289.5,161.09 L290.0,161.12 L290.5,161.15 L291.0,161.18 L291.5,161.22 L292.0,161.24 L292.5,161.27 L293.0,161.30 L293.5,161.33 L294.0,161.36 L294.5,161.38 L295.0,161.41 L295.5,161.43 L296.0,161.46 L296.5,161.48 L297.0,161.50 L297.5,161.53 L298.0,161.55 L298.5,161.57 L299.0,161.59 L299.5,161.61 L300.0,161.63 L300.5,161.65 L301.0,161.67 L301.5,161.69 L302.0,161.71 L302.5,161.72 L303.0,161.74 L303.5,161.76 L304.0,161.77 L304.5,161.79 L305.0,161.80 L305.5,161.82 L306.0,161.83 L306.5,161.85 L307.0,161.86 L307.5,161.88 L308.0,161.89 L308.5,161.90 L309.0,161.92 L309.5,161.93 L310.0,161.94 L310.5,161.95 L311.0,161.96 L311.5,161.97 L312.0,161.99 L312.5,162.00 L313.0,162.01 L313.5,162.02 L314.0,162.03 L314.5,162.04 L315.0,162.04 L315.5,162.05 L316.0,162.06 L316.5,162.07 L317.0,162.08 L317.5,162.09 L318.0,162.10 L318.5,162.10 L319.0,162.11 L319.5,162.12 L320.0,162.13 L320.5,162.13 L321.0,162.14 L321.5,162.15 L322.0,162.15 L322.5,162.16 L323.0,162.17 L323.5,162.17 L324.0,162.18 L324.5,162.18 L325.0,162.19 L325.5,162.19 L326.0,162.20 L326.5,162.20 L327.0,162.21 L327.5,162.21 L328.0,162.22 L328.5,162.22 L329.0,162.23 L329.5,162.23 L330.0,162.24 L330.5,162.24 L331.0,162.24 L331.5,162.25 L332.0,162.25 L332.5,162.26 L333.0,162.26 L333.5,162.26 L334.0,162.27 L334.5,162.27 L335.0,162.27 L335.5,162.28 L336.0,162.28 L336.5,162.28 L337.0,162.29 L337.5,162.29 L338.0,162.29 L338.5,162.29 L339.0,162.30 L339.5,162.30 L340.0,162.30 L340.5,162.30 L341.0,162.31 L341.5,162.31 L342.0,162.31 L342.5,162.31 L343.0,162.31 L343.5,162.32 L344.0,162.32 L344.5,162.32 L345.0,162.32 L345.5,162.32 L346.0,162.33 L346.5,162.33 L347.0,162.33 L347.5,162.33 L348.0,162.33 L348.5,162.33 L349.0,162.34 L349.5,162.34 L350.0,162.34 L350.5,162.34 L351.0,162.34 L351.5,162.34 L352.0,162.34 L352.5,162.34 L353.0,162.35 L353.5,162.35 L354.0,162.35 L354.5,162.35 L355.0,162.35 L355.5,162.35 L356.0,162.35 L356.5,162.35 L357.0,162.35 L357.5,162.35 L358.0,162.36 L358.5,162.36 L359.0,162.36 L359.5,162.36 L360.0,162.36 L360.5,162.36" fill="none" stroke="#d6222f" stroke-width="2.2" stroke-linejoin="round" />
<path d="M65.5,177.50 L66.0,177.50 L66.5,177.50 L67.0,177.50 L67.5,177.50 L68.0,177.50 L68.5,177.50 L69.0,177.50 L69.5,177.50 L70.0,177.50 L70.5,177.50 L71.0,177.50 L71.5,177.50 L72.0,177.50 L72.5,177.50 L73.0,177.50 L73.5,177.50 L74.0,177.50 L74.5,177.50 L75.0,177.50 L75.5,177.50 L76.0,177.49 L76.5,177.49 L77.0,177.48 L77.5,177.46 L78.0,177.43 L78.5,177.37 L79.0,177.27 L79.5,177.11 L80.0,176.86 L80.5,176.50 L81.0,175.99 L81.5,175.33 L82.0,174.52 L82.5,173.58 L83.0,172.59 L83.5,171.61 L84.0,170.75 L84.5,170.10 L85.0,169.74 L85.5,169.73 L86.0,170.04 L86.5,170.65 L87.0,171.47 L87.5,172.40 L88.0,173.34 L88.5,174.19 L89.0,174.89 L89.5,175.39 L90.0,175.65 L90.5,175.66 L91.0,175.43 L91.5,174.99 L92.0,174.35 L92.5,173.60 L93.0,172.78 L93.5,172.00 L94.0,171.35 L94.5,170.90 L95.0,170.71 L95.5,170.81 L96.0,171.17 L96.5,171.74 L97.0,172.45 L97.5,173.22 L98.0,173.98 L98.5,174.66 L99.0,175.25 L99.5,175.72 L100.0,176.08 L100.5,176.35 L101.0,176.54 L101.5,176.68 L102.0,176.78 L102.5,176.85 L103.0,176.90 L103.5,176.95 L104.0,176.98 L104.5,177.01 L105.0,177.04 L105.5,177.06 L106.0,177.09 L106.5,177.11 L107.0,177.13 L107.5,177.15 L108.0,177.17 L108.5,177.18 L109.0,177.20 L109.5,177.22 L110.0,177.23 L110.5,177.24 L111.0,177.26 L111.5,177.27 L112.0,177.28 L112.5,177.29 L113.0,177.30 L113.5,177.31 L114.0,177.32 L114.5,177.33 L115.0,177.34 L115.5,177.35 L116.0,177.35 L116.5,177.36 L117.0,177.37 L117.5,177.37 L118.0,177.38 L118.5,177.38 L119.0,177.39 L119.5,177.39 L120.0,177.40 L120.5,177.40 L121.0,177.41 L121.5,177.41 L122.0,177.41 L122.5,177.42 L123.0,177.42 L123.5,177.42 L124.0,177.43 L124.5,177.43 L125.0,177.43 L125.5,177.44 L126.0,177.44 L126.5,177.44 L127.0,177.44 L127.5,177.44 L128.0,177.45 L128.5,177.45 L129.0,177.45 L129.5,177.45 L130.0,177.45 L130.5,177.45 L131.0,177.45 L131.5,177.45 L132.0,177.46 L132.5,177.46 L133.0,177.46 L133.5,177.46 L134.0,177.46 L134.5,177.46 L135.0,177.46 L135.5,177.46 L136.0,177.46 L136.5,177.46 L137.0,177.46 L137.5,177.46 L138.0,177.46 L138.5,177.46 L139.0,177.47 L139.5,177.47 L140.0,177.47 L140.5,177.47 L141.0,177.47 L141.5,177.47 L142.0,177.47 L142.5,177.47 L143.0,177.47 L143.5,177.47 L144.0,177.47 L144.5,177.47 L145.0,177.47 L145.5,177.47 L146.0,177.47 L146.5,177.47 L147.0,177.47 L147.5,177.47 L148.0,177.47 L148.5,177.47 L149.0,177.47 L149.5,177.47 L150.0,177.47 L150.5,177.47 L151.0,177.47 L151.5,177.47 L152.0,177.47 L152.5,177.47 L153.0,177.47 L153.5,177.47 L154.0,177.47 L154.5,177.47 L155.0,177.47 L155.5,177.47 L156.0,177.47 L156.5,177.47 L157.0,177.47 L157.5,177.47 L158.0,177.47 L158.5,177.47 L159.0,177.47 L159.5,177.47 L160.0,177.47 L160.5,177.47 L161.0,177.47 L161.5,177.47 L162.0,177.47 L162.5,177.47 L163.0,177.47 L163.5,177.47 L164.0,177.47 L164.5,177.47 L165.0,177.47 L165.5,177.47 L166.0,177.47 L166.5,177.47 L167.0,177.47 L167.5,177.47 L168.0,177.46 L168.5,177.46 L169.0,177.46 L169.5,177.46 L170.0,177.46 L170.5,177.46 L171.0,177.46 L171.5,177.46 L172.0,177.46 L172.5,177.46 L173.0,177.46 L173.5,177.46 L174.0,177.46 L174.5,177.46 L175.0,177.46 L175.5,177.46 L176.0,177.46 L176.5,177.46 L177.0,177.46 L177.5,177.46 L178.0,177.46 L178.5,177.46 L179.0,177.46 L179.5,177.46 L180.0,177.46 L180.5,177.46 L181.0,177.46 L181.5,177.46 L182.0,177.46 L182.5,177.46 L183.0,177.46 L183.5,177.46 L184.0,177.46 L184.5,177.46 L185.0,177.46 L185.5,177.46 L186.0,177.46 L186.5,177.46 L187.0,177.46 L187.5,177.46 L188.0,177.46 L188.5,177.46 L189.0,177.46 L189.5,177.46 L190.0,177.46 L190.5,177.46 L191.0,177.46 L191.5,177.46 L192.0,177.46 L192.5,177.46 L193.0,177.46 L193.5,177.46 L194.0,177.46 L194.5,177.46 L195.0,177.46 L195.5,177.46 L196.0,177.46 L196.5,177.46 L197.0,177.46 L197.5,177.46 L198.0,177.46 L198.5,177.45 L199.0,177.45 L199.5,177.45 L200.0,177.45 L200.5,177.45 L201.0,177.45 L201.5,177.45 L202.0,177.45 L202.5,177.45 L203.0,177.45 L203.5,177.45 L204.0,177.45 L204.5,177.45 L205.0,177.45 L205.5,177.45 L206.0,177.45 L206.5,177.45 L207.0,177.45 L207.5,177.45 L208.0,177.45 L208.5,177.45 L209.0,177.45 L209.5,177.45 L210.0,177.45 L210.5,177.45 L211.0,177.45 L211.5,177.45 L212.0,177.45 L212.5,177.45 L213.0,177.45 L213.5,177.45 L214.0,177.45 L214.5,177.45 L215.0,177.45 L215.5,177.45 L216.0,177.45 L216.5,177.45 L217.0,177.45 L217.5,177.45 L218.0,177.45 L218.5,177.45 L219.0,177.45 L219.5,177.45 L220.0,177.45 L220.5,177.45 L221.0,177.45 L221.5,177.45 L222.0,177.45 L222.5,177.45 L223.0,177.45 L223.5,177.45 L224.0,177.45 L224.5,177.45 L225.0,177.45 L225.5,177.45 L226.0,177.44 L226.5,177.44 L227.0,177.44 L227.5,177.44 L228.0,177.44 L228.5,177.44 L229.0,177.44 L229.5,177.43 L230.0,177.43 L230.5,177.42 L231.0,177.41 L231.5,177.40 L232.0,177.39 L232.5,177.38 L233.0,177.35 L233.5,177.33 L234.0,177.30 L234.5,177.26 L235.0,177.22 L235.5,177.17 L236.0,177.11 L236.5,177.04 L237.0,176.97 L237.5,176.89 L238.0,176.79 L238.5,176.69 L239.0,176.59 L239.5,176.48 L240.0,176.36 L240.5,176.24 L241.0,176.12 L241.5,176.00 L242.0,175.88 L242.5,175.77 L243.0,175.66 L243.5,175.56 L244.0,175.47 L244.5,175.39 L245.0,175.32 L245.5,175.26 L246.0,175.22 L246.5,175.18 L247.0,175.16 L247.5,175.14 L248.0,175.14 L248.5,175.14 L249.0,175.15 L249.5,175.17 L250.0,175.20 L250.5,175.23 L251.0,175.26 L251.5,175.30 L252.0,175.34 L252.5,175.38 L253.0,175.42 L253.5,175.47 L254.0,175.51 L254.5,175.55 L255.0,175.60 L255.5,175.64 L256.0,175.68 L256.5,175.73 L257.0,175.77 L257.5,175.81 L258.0,175.85 L258.5,175.88 L259.0,175.92 L259.5,175.96 L260.0,175.99 L260.5,176.03 L261.0,176.06 L261.5,176.10 L262.0,176.13 L262.5,176.16 L263.0,176.19 L263.5,176.22 L264.0,176.25 L264.5,176.28 L265.0,176.31 L265.5,176.33 L266.0,176.36 L266.5,176.39 L267.0,176.41 L267.5,176.44 L268.0,176.46 L268.5,176.48 L269.0,176.51 L269.5,176.53 L270.0,176.55 L270.5,176.57 L271.0,176.59 L271.5,176.61 L272.0,176.63 L272.5,176.65 L273.0,176.67 L273.5,176.69 L274.0,176.71 L274.5,176.72 L275.0,176.74 L275.5,176.76 L276.0,176.77 L276.5,176.79 L277.0,176.80 L277.5,176.82 L278.0,176.83 L278.5,176.85 L279.0,176.86 L279.5,176.88 L280.0,176.89 L280.5,176.90 L281.0,176.91 L281.5,176.93 L282.0,176.94 L282.5,176.95 L283.0,176.96 L283.5,176.97 L284.0,176.98 L284.5,176.99 L285.0,177.01 L285.5,177.02 L286.0,177.03 L286.5,177.03 L287.0,177.04 L287.5,177.05 L288.0,177.06 L288.5,177.07 L289.0,177.08 L289.5,177.09 L290.0,177.10 L290.5,177.10 L291.0,177.11 L291.5,177.12 L292.0,177.13 L292.5,177.13 L293.0,177.14 L293.5,177.15 L294.0,177.15 L294.5,177.16 L295.0,177.17 L295.5,177.17 L296.0,177.18 L296.5,177.18 L297.0,177.19 L297.5,177.19 L298.0,177.20 L298.5,177.20 L299.0,177.21 L299.5,177.21 L300.0,177.22 L300.5,177.22 L301.0,177.23 L301.5,177.23 L302.0,177.24 L302.5,177.24 L303.0,177.25 L303.5,177.25 L304.0,177.25 L304.5,177.26 L305.0,177.26 L305.5,177.27 L306.0,177.27 L306.5,177.27 L307.0,177.28 L307.5,177.28 L308.0,177.28 L308.5,177.29 L309.0,177.29 L309.5,177.29 L310.0,177.29 L310.5,177.30 L311.0,177.30 L311.5,177.30 L312.0,177.31 L312.5,177.31 L313.0,177.31 L313.5,177.31 L314.0,177.32 L314.5,177.32 L315.0,177.32 L315.5,177.32 L316.0,177.32 L316.5,177.33 L317.0,177.33 L317.5,177.33 L318.0,177.33 L318.5,177.33 L319.0,177.34 L319.5,177.34 L320.0,177.34 L320.5,177.34 L321.0,177.34 L321.5,177.34 L322.0,177.35 L322.5,177.35 L323.0,177.35 L323.5,177.35 L324.0,177.35 L324.5,177.35 L325.0,177.35 L325.5,177.35 L326.0,177.36 L326.5,177.36 L327.0,177.36 L327.5,177.36 L328.0,177.36 L328.5,177.36 L329.0,177.36 L329.5,177.36 L330.0,177.36 L330.5,177.37 L331.0,177.37 L331.5,177.37 L332.0,177.37 L332.5,177.37 L333.0,177.37 L333.5,177.37 L334.0,177.37 L334.5,177.37 L335.0,177.37 L335.5,177.37 L336.0,177.37 L336.5,177.37 L337.0,177.38 L337.5,177.38 L338.0,177.38 L338.5,177.38 L339.0,177.38 L339.5,177.38 L340.0,177.38 L340.5,177.38 L341.0,177.38 L341.5,177.38 L342.0,177.38 L342.5,177.38 L343.0,177.38 L343.5,177.38 L344.0,177.38 L344.5,177.38 L345.0,177.38 L345.5,177.38 L346.0,177.38 L346.5,177.38 L347.0,177.38 L347.5,177.39 L348.0,177.39 L348.5,177.39 L349.0,177.39 L349.5,177.39 L350.0,177.39 L350.5,177.39 L351.0,177.39 L351.5,177.39 L352.0,177.39 L352.5,177.39 L353.0,177.39 L353.5,177.39 L354.0,177.39 L354.5,177.39 L355.0,177.39 L355.5,177.39 L356.0,177.39 L356.5,177.39 L357.0,177.39 L357.5,177.39 L358.0,177.39 L358.5,177.39 L359.0,177.39 L359.5,177.39 L360.0,177.39 L360.5,177.39" fill="none" stroke="#2f57a8" stroke-width="2.2" stroke-linejoin="round" />
<path d="M65.5,223.00 L66.0,223.00 L66.5,223.00 L67.0,223.00 L67.5,223.00 L68.0,223.00 L68.5,223.00 L69.0,223.00 L69.5,223.00 L70.0,223.00 L70.5,223.00 L71.0,223.00 L71.5,223.00 L72.0,223.00 L72.5,223.00 L73.0,223.00 L73.5,223.00 L74.0,223.00 L74.5,223.00 L75.0,223.00 L75.5,223.00 L76.0,223.00 L76.5,223.00 L77.0,223.00 L77.5,223.00 L78.0,223.00 L78.5,223.00 L79.0,223.00 L79.5,223.00 L80.0,223.00 L80.5,223.00 L81.0,223.00 L81.5,223.00 L82.0,223.00 L82.5,223.00 L83.0,223.00 L83.5,223.00 L84.0,223.00 L84.5,223.00 L85.0,223.00 L85.5,223.00 L86.0,223.00 L86.5,223.00 L87.0,223.00 L87.5,223.00 L88.0,223.00 L88.5,223.00 L89.0,223.00 L89.5,223.00 L90.0,222.99 L90.5,222.96 L91.0,222.83 L91.5,222.45 L92.0,221.52 L92.5,219.73 L93.0,216.97 L93.5,213.65 L94.0,210.59 L94.5,208.60 L95.0,208.00 L95.5,208.53 L96.0,209.71 L96.5,211.09 L97.0,212.43 L97.5,213.66 L98.0,214.76 L98.5,215.73 L99.0,216.58 L99.5,217.34 L100.0,218.00 L100.5,218.59 L101.0,219.11 L101.5,219.56 L102.0,219.97 L102.5,220.32 L103.0,220.64 L103.5,220.92 L104.0,221.16 L104.5,221.38 L105.0,221.57 L105.5,221.73 L106.0,221.87 L106.5,221.94 L107.0,221.88 L107.5,221.49 L108.0,220.54 L108.5,218.86 L109.0,216.60 L109.5,214.26 L110.0,212.49 L110.5,211.70 L111.0,211.84 L111.5,212.59 L112.0,213.60 L112.5,214.65 L113.0,215.61 L113.5,216.48 L114.0,217.24 L114.5,217.92 L115.0,218.52 L115.5,219.04 L116.0,219.51 L116.5,219.92 L117.0,220.28 L117.5,220.60 L118.0,220.88 L118.5,221.13 L119.0,221.35 L119.5,221.54 L120.0,221.72 L120.5,221.87 L121.0,222.00 L121.5,222.12 L122.0,222.22 L122.5,222.31 L123.0,222.39 L123.5,222.46 L124.0,222.53 L124.5,222.58 L125.0,222.63 L125.5,222.67 L126.0,222.71 L126.5,222.74 L127.0,222.76 L127.5,222.78 L128.0,222.80 L128.5,222.80 L129.0,222.80 L129.5,222.79 L130.0,222.76 L130.5,222.73 L131.0,222.69 L131.5,222.63 L132.0,222.56 L132.5,222.46 L133.0,222.35 L133.5,222.22 L134.0,222.06 L134.5,221.89 L135.0,221.69 L135.5,221.47 L136.0,221.23 L136.5,220.98 L137.0,220.71 L137.5,220.44 L138.0,220.17 L138.5,219.91 L139.0,219.65 L139.5,219.41 L140.0,219.19 L140.5,219.00 L141.0,218.83 L141.5,218.70 L142.0,218.59 L142.5,218.52 L143.0,218.48 L143.5,218.47 L144.0,218.48 L144.5,218.52 L145.0,218.58 L145.5,218.66 L146.0,218.76 L146.5,218.86 L147.0,218.97 L147.5,219.09 L148.0,219.22 L148.5,219.34 L149.0,219.46 L149.5,219.59 L150.0,219.71 L150.5,219.82 L151.0,219.94 L151.5,220.05 L152.0,220.16 L152.5,220.26 L153.0,220.36 L153.5,220.45 L154.0,220.54 L154.5,220.63 L155.0,220.71 L155.5,220.79 L156.0,220.87 L156.5,220.94 L157.0,221.01 L157.5,221.08 L158.0,221.14 L158.5,221.21 L159.0,221.26 L159.5,221.32 L160.0,221.37 L160.5,221.43 L161.0,221.47 L161.5,221.52 L162.0,221.57 L162.5,221.61 L163.0,221.65 L163.5,221.69 L164.0,221.73 L164.5,221.76 L165.0,221.80 L165.5,221.83 L166.0,221.86 L166.5,221.89 L167.0,221.92 L167.5,221.94 L168.0,221.97 L168.5,221.99 L169.0,222.02 L169.5,222.04 L170.0,222.06 L170.5,222.08 L171.0,222.10 L171.5,222.12 L172.0,222.13 L172.5,222.15 L173.0,222.17 L173.5,222.18 L174.0,222.19 L174.5,222.21 L175.0,222.22 L175.5,222.23 L176.0,222.24 L176.5,222.25 L177.0,222.26 L177.5,222.27 L178.0,222.28 L178.5,222.29 L179.0,222.30 L179.5,222.30 L180.0,222.31 L180.5,222.32 L181.0,222.32 L181.5,222.33 L182.0,222.33 L182.5,222.34 L183.0,222.34 L183.5,222.35 L184.0,222.35 L184.5,222.35 L185.0,222.36 L185.5,222.36 L186.0,222.36 L186.5,222.36 L187.0,222.37 L187.5,222.37 L188.0,222.37 L188.5,222.37 L189.0,222.37 L189.5,222.37 L190.0,222.37 L190.5,222.37 L191.0,222.37 L191.5,222.37 L192.0,222.37 L192.5,222.37 L193.0,222.37 L193.5,222.37 L194.0,222.37 L194.5,222.37 L195.0,222.37 L195.5,222.37 L196.0,222.37 L196.5,222.36 L197.0,222.36 L197.5,222.36 L198.0,222.36 L198.5,222.36 L199.0,222.36 L199.5,222.35 L200.0,222.35 L200.5,222.36 L201.0,222.37 L201.5,222.37 L202.0,222.38 L202.5,222.39 L203.0,222.39 L203.5,222.40 L204.0,222.41 L204.5,222.41 L205.0,222.42 L205.5,222.42 L206.0,222.43 L206.5,222.44 L207.0,222.44 L207.5,222.45 L208.0,222.46 L208.5,222.46 L209.0,222.47 L209.5,222.47 L210.0,222.48 L210.5,222.48 L211.0,222.49 L211.5,222.50 L212.0,222.50 L212.5,222.51 L213.0,222.51 L213.5,222.52 L214.0,222.52 L214.5,222.53 L215.0,222.54 L215.5,222.54 L216.0,222.55 L216.5,222.55 L217.0,222.56 L217.5,222.56 L218.0,222.57 L218.5,222.57 L219.0,222.58 L219.5,222.59 L220.0,222.59 L220.5,222.60 L221.0,222.60 L221.5,222.61 L222.0,222.61 L222.5,222.62 L223.0,222.62 L223.5,222.63 L224.0,222.63 L224.5,222.64 L225.0,222.64 L225.5,222.65 L226.0,222.65 L226.5,222.66 L227.0,222.66 L227.5,222.67 L228.0,222.68 L228.5,222.68 L229.0,222.69 L229.5,222.69 L230.0,222.70 L230.5,222.70 L231.0,222.71 L231.5,222.71 L232.0,222.72 L232.5,222.72 L233.0,222.73 L233.5,222.73 L234.0,222.74 L234.5,222.74 L235.0,222.75 L235.5,222.75 L236.0,222.76 L236.5,222.76 L237.0,222.77 L237.5,222.77 L238.0,222.78 L238.5,222.78 L239.0,222.79 L239.5,222.79 L240.0,222.80 L240.5,222.81 L241.0,222.82 L241.5,222.83 L242.0,222.84 L242.5,222.85 L243.0,222.86 L243.5,222.87 L244.0,222.88 L244.5,222.89 L245.0,222.90 L245.5,222.91 L246.0,222.92 L246.5,222.93 L247.0,222.94 L247.5,222.95 L248.0,222.96 L248.5,222.97 L249.0,222.98 L249.5,222.99 L250.0,223.00 L250.5,223.01 L251.0,223.02 L251.5,223.03 L252.0,223.04 L252.5,223.05 L253.0,223.06 L253.5,223.07 L254.0,223.08 L254.5,223.09 L255.0,223.10 L255.5,223.11 L256.0,223.12 L256.5,223.13 L257.0,223.14 L257.5,223.15 L258.0,223.16 L258.5,223.17 L259.0,223.18 L259.5,223.19 L260.0,223.20 L260.5,223.21 L261.0,223.22 L261.5,223.23 L262.0,223.24 L262.5,223.25 L263.0,223.26 L263.5,223.27 L264.0,223.28 L264.5,223.29 L265.0,223.30 L265.5,223.29 L266.0,223.28 L266.5,223.27 L267.0,223.26 L267.5,223.25 L268.0,223.24 L268.5,223.24 L269.0,223.23 L269.5,223.22 L270.0,223.21 L270.5,223.20 L271.0,223.19 L271.5,223.18 L272.0,223.17 L272.5,223.16 L273.0,223.15 L273.5,223.14 L274.0,223.13 L274.5,223.12 L275.0,223.11 L275.5,223.11 L276.0,223.10 L276.5,223.09 L277.0,223.08 L277.5,223.07 L278.0,223.06 L278.5,223.05 L279.0,223.04 L279.5,223.03 L280.0,223.02 L280.5,223.01 L281.0,223.00 L281.5,222.99 L282.0,222.99 L282.5,222.98 L283.0,222.97 L283.5,222.96 L284.0,222.95 L284.5,222.94 L285.0,222.93 L285.5,222.92 L286.0,222.91 L286.5,222.90 L287.0,222.89 L287.5,222.88 L288.0,222.87 L288.5,222.86 L289.0,222.86 L289.5,222.85 L290.0,222.84 L290.5,222.83 L291.0,222.82 L291.5,222.81 L292.0,222.80 L292.5,222.78 L293.0,222.77 L293.5,222.75 L294.0,222.73 L294.5,222.72 L295.0,222.70 L295.5,222.68 L296.0,222.67 L296.5,222.65 L297.0,222.63 L297.5,222.62 L298.0,222.60 L298.5,222.58 L299.0,222.57 L299.5,222.55 L300.0,222.53 L300.5,222.52 L301.0,222.50 L301.5,222.48 L302.0,222.47 L302.5,222.45 L303.0,222.43 L303.5,222.42 L304.0,222.40 L304.5,222.38 L305.0,222.37 L305.5,222.35 L306.0,222.33 L306.5,222.32 L307.0,222.30 L307.5,222.28 L308.0,222.27 L308.5,222.25 L309.0,222.23 L309.5,222.22 L310.0,222.20 L310.5,222.18 L311.0,222.17 L311.5,222.15 L312.0,222.13 L312.5,222.12 L313.0,222.10 L313.5,222.08 L314.0,222.07 L314.5,222.05 L315.0,222.03 L315.5,222.02 L316.0,222.00 L316.5,221.98 L317.0,221.97 L317.5,221.95 L318.0,221.93 L318.5,221.92 L319.0,221.90 L319.5,221.87 L320.0,221.83 L320.5,221.80 L321.0,221.77 L321.5,221.73 L322.0,221.70 L322.5,221.67 L323.0,221.63 L323.5,221.60 L324.0,221.57 L324.5,221.53 L325.0,221.50 L325.5,221.47 L326.0,221.43 L326.5,221.40 L327.0,221.37 L327.5,221.33 L328.0,221.30 L328.5,221.27 L329.0,221.23 L329.5,221.20 L330.0,221.17 L330.5,221.13 L331.0,221.10 L331.5,221.07 L332.0,221.03 L332.5,221.00 L333.0,220.97 L333.5,220.93 L334.0,220.90 L334.5,220.87 L335.0,220.83 L335.5,220.80 L336.0,220.77 L336.5,220.73 L337.0,220.70 L337.5,220.66 L338.0,220.62 L338.5,220.59 L339.0,220.55 L339.5,220.51 L340.0,220.47 L340.5,220.43 L341.0,220.40 L341.5,220.36 L342.0,220.32 L342.5,220.28 L343.0,220.24 L343.5,220.21 L344.0,220.17 L344.5,220.13 L345.0,220.09 L345.5,220.05 L346.0,220.02 L346.5,219.98 L347.0,219.94 L347.5,219.90 L348.0,219.86 L348.5,219.83 L349.0,219.79 L349.5,219.75 L350.0,219.71 L350.5,219.67 L351.0,219.64 L351.5,219.60 L352.0,219.56 L352.5,219.52 L353.0,219.48 L353.5,219.45 L354.0,219.41 L354.5,219.37 L355.0,219.33 L355.5,219.29 L356.0,219.26 L356.5,219.22 L357.0,219.18 L357.5,219.14 L358.0,219.11 L358.5,219.07 L359.0,219.03 L359.5,218.99 L360.0,218.95 L360.5,218.92" fill="none" stroke="#dc4454" stroke-width="2.0" stroke-linejoin="round" />
<text transform="translate(76.2,159.6) rotate(-90)" class="ann" style="font-size:8.4px" textLength="62.6">Hypoxanthine</text>
<text transform="translate(106.3,141.4) rotate(-90)" class="ann" style="font-size:8.8px" textLength="40.9">Xanthine</text>
<text transform="translate(241.6,135.2) rotate(-90)" class="ann" style="font-size:7.4px" textLength="25.9">Adenine</text>
<text x="72.8" y="195.1" class="ann2" textLength="63.7">Hypoxanthine</text>
<text x="116.7" y="205.4" class="ann2" textLength="42">Xanthine</text>
<text x="171" y="209.1" class="ann2" textLength="39">Adenine</text>
<path d="M80.2,198.5 L84.6,205.3" stroke="#000" stroke-width="1.5"/><path d="M88.7,211.7 L80.8,206.6 L87.3,202.4 Z" fill="#000"/>
<path d="M131.3,208.3 L123.3,213.0" stroke="#000" stroke-width="1.5"/><path d="M116.7,216.8 L122.2,209.1 L126.1,215.8 Z" fill="#000"/>
<path d="M160.6,208.3 L152.6,213.0" stroke="#000" stroke-width="1.5"/><path d="M146.0,216.8 L151.5,209.1 L155.4,215.8 Z" fill="#000"/>
<path d="M455.2,71.60 L455.7,71.60 L456.2,71.60 L456.7,71.60 L457.2,71.60 L457.7,71.60 L458.2,71.60 L458.7,71.60 L459.2,71.60 L459.7,71.60 L460.2,71.60 L460.7,71.60 L461.2,71.60 L461.7,71.60 L462.2,71.60 L462.7,71.61 L463.2,71.61 L463.7,71.61 L464.2,71.61 L464.7,71.61 L465.2,71.61 L465.7,71.61 L466.2,71.61 L466.7,71.61 L467.2,71.61 L467.7,71.61 L468.2,71.61 L468.7,71.61 L469.2,71.61 L469.7,71.61 L470.2,71.61 L470.7,71.61 L471.2,71.61 L471.7,71.61 L472.2,71.61 L472.7,71.61 L473.2,71.61 L473.7,71.61 L474.2,71.61 L474.7,71.61 L475.2,71.61 L475.7,71.61 L476.2,71.61 L476.7,71.61 L477.2,71.61 L477.7,71.62 L478.2,71.62 L478.7,71.62 L479.2,71.62 L479.7,71.62 L480.2,71.62 L480.7,71.62 L481.2,71.62 L481.7,71.62 L482.2,71.62 L482.7,71.62 L483.2,71.62 L483.7,71.62 L484.2,71.62 L484.7,71.62 L485.2,71.62 L485.7,71.62 L486.2,71.62 L486.7,71.62 L487.2,71.62 L487.7,71.62 L488.2,71.62 L488.7,71.62 L489.2,71.62 L489.7,71.62 L490.2,71.62 L490.7,71.62 L491.2,71.62 L491.7,71.62 L492.2,71.63 L492.7,71.63 L493.2,71.63 L493.7,71.63 L494.2,71.63 L494.7,71.63 L495.2,71.63 L495.7,71.63 L496.2,71.63 L496.7,71.63 L497.2,71.63 L497.7,71.63 L498.2,71.63 L498.7,71.63 L499.2,71.63 L499.7,71.63 L500.2,71.63 L500.7,71.63 L501.2,71.63 L501.7,71.63 L502.2,71.63 L502.7,71.63 L503.2,71.63 L503.7,71.62 L504.2,71.61 L504.7,71.60 L505.2,71.59 L505.7,71.56 L506.2,71.52 L506.7,71.45 L507.2,71.35 L507.7,71.18 L508.2,70.92 L508.7,70.50 L509.2,69.85 L509.7,68.88 L510.2,67.47 L510.7,65.52 L511.2,62.94 L511.7,59.71 L512.2,55.92 L512.7,51.73 L513.2,47.45 L513.7,43.45 L514.2,40.15 L514.7,37.90 L515.2,36.94 L515.7,37.37 L516.2,39.08 L516.7,41.83 L517.2,45.27 L517.7,49.03 L518.2,52.77 L518.7,56.22 L519.2,59.23 L519.7,61.71 L520.2,63.68 L520.7,65.19 L521.2,66.32 L521.7,67.16 L522.2,67.77 L522.7,68.23 L523.2,68.58 L523.7,68.85 L524.2,69.08 L524.7,69.27 L525.2,69.43 L525.7,69.58 L526.2,69.71 L526.7,69.83 L527.2,69.94 L527.7,70.05 L528.2,70.15 L528.7,70.24 L529.2,70.33 L529.7,70.41 L530.2,70.48 L530.7,70.55 L531.2,70.62 L531.7,70.68 L532.2,70.74 L532.7,70.80 L533.2,70.85 L533.7,70.90 L534.2,70.94 L534.7,70.99 L535.2,71.03 L535.7,71.07 L536.2,71.10 L536.7,71.14 L537.2,71.17 L537.7,71.20 L538.2,71.23 L538.7,71.25 L539.2,71.28 L539.7,71.30 L540.2,71.32 L540.7,71.34 L541.2,71.36 L541.7,71.38 L542.2,71.40 L542.7,71.41 L543.2,71.43 L543.7,71.44 L544.2,71.46 L544.7,71.47 L545.2,71.48 L545.7,71.49 L546.2,71.50 L546.7,71.51 L547.2,71.52 L547.7,71.53 L548.2,71.54 L548.7,71.55 L549.2,71.56 L549.7,71.56 L550.2,71.57 L550.7,71.57 L551.2,71.58 L551.7,71.59 L552.2,71.59 L552.7,71.60 L553.2,71.60 L553.7,71.60 L554.2,71.61 L554.7,71.61 L555.2,71.62 L555.7,71.62 L556.2,71.62 L556.7,71.63 L557.2,71.63 L557.7,71.63 L558.2,71.63 L558.7,71.64 L559.2,71.64 L559.7,71.64 L560.2,71.64 L560.7,71.65 L561.2,71.65 L561.7,71.65 L562.2,71.65 L562.7,71.65 L563.2,71.65 L563.7,71.66 L564.2,71.66 L564.7,71.66 L565.2,71.66 L565.7,71.66 L566.2,71.66 L566.7,71.66 L567.2,71.66 L567.7,71.67 L568.2,71.67 L568.7,71.67 L569.2,71.67 L569.7,71.67 L570.2,71.67 L570.7,71.67 L571.2,71.67 L571.7,71.67 L572.2,71.67 L572.7,71.67 L573.2,71.67 L573.7,71.68 L574.2,71.68 L574.7,71.68 L575.2,71.68 L575.7,71.68 L576.2,71.68 L576.7,71.68 L577.2,71.68 L577.7,71.68 L578.2,71.68 L578.7,71.68 L579.2,71.68 L579.7,71.68 L580.2,71.68 L580.7,71.68 L581.2,71.68 L581.7,71.68 L582.2,71.68 L582.7,71.68 L583.2,71.69 L583.7,71.69 L584.2,71.69 L584.7,71.69 L585.2,71.69 L585.7,71.69 L586.2,71.69 L586.7,71.69 L587.2,71.69 L587.7,71.69 L588.2,71.69 L588.7,71.69 L589.2,71.69 L589.7,71.69 L590.2,71.69 L590.7,71.69 L591.2,71.69 L591.7,71.69 L592.2,71.69 L592.7,71.69 L593.2,71.69 L593.7,71.69 L594.2,71.69 L594.7,71.69 L595.2,71.69 L595.7,71.69 L596.2,71.70 L596.7,71.70 L597.2,71.70 L597.7,71.70 L598.2,71.70 L598.7,71.70 L599.2,71.70 L599.7,71.70 L600.2,71.70 L600.7,71.70 L601.2,71.70 L601.7,71.70 L602.2,71.70 L602.7,71.70 L603.2,71.70 L603.7,71.70 L604.2,71.70 L604.7,71.70 L605.2,71.70 L605.7,71.70 L606.2,71.70 L606.7,71.70 L607.2,71.70 L607.7,71.70 L608.2,71.70 L608.7,71.70 L609.2,71.70 L609.7,71.70 L610.2,71.70 L610.7,71.71 L611.2,71.71 L611.7,71.71 L612.2,71.71 L612.7,71.71 L613.2,71.71 L613.7,71.71 L614.2,71.71 L614.7,71.71 L615.2,71.71 L615.7,71.71 L616.2,71.71 L616.7,71.71 L617.2,71.71 L617.7,71.71 L618.2,71.71 L618.7,71.71 L619.2,71.71 L619.7,71.71 L620.2,71.71 L620.7,71.71 L621.2,71.71 L621.7,71.71 L622.2,71.71 L622.7,71.71 L623.2,71.71 L623.7,71.71 L624.2,71.71 L624.7,71.71 L625.2,71.72 L625.7,71.72 L626.2,71.72 L626.7,71.72 L627.2,71.72 L627.7,71.72 L628.2,71.72 L628.7,71.72 L629.2,71.72 L629.7,71.72 L630.2,71.72 L630.7,71.72 L631.2,71.72 L631.7,71.72 L632.2,71.72 L632.7,71.72 L633.2,71.72 L633.7,71.72 L634.2,71.72 L634.7,71.72 L635.2,71.72 L635.7,71.72 L636.2,71.72 L636.7,71.72 L637.2,71.72 L637.7,71.72 L638.2,71.72 L638.7,71.72 L639.2,71.72 L639.7,71.72 L640.2,71.73 L640.7,71.73 L641.2,71.73 L641.7,71.73 L642.2,71.73 L642.7,71.73 L643.2,71.73 L643.7,71.73 L644.2,71.73 L644.7,71.73 L645.2,71.73 L645.7,71.73 L646.2,71.73 L646.7,71.73 L647.2,71.73 L647.7,71.73 L648.2,71.73 L648.7,71.73 L649.2,71.73 L649.7,71.73 L650.2,71.73 L650.7,71.73 L651.2,71.73 L651.7,71.73 L652.2,71.73 L652.7,71.73 L653.2,71.73 L653.7,71.73 L654.2,71.73 L654.7,71.74 L655.2,71.74 L655.7,71.74 L656.2,71.74 L656.7,71.74 L657.2,71.74 L657.7,71.74 L658.2,71.74 L658.7,71.74 L659.2,71.74 L659.7,71.74 L660.2,71.74 L660.7,71.74 L661.2,71.74 L661.7,71.74 L662.2,71.74 L662.7,71.74 L663.2,71.74 L663.7,71.74 L664.2,71.74 L664.7,71.74 L665.2,71.74 L665.7,71.74 L666.2,71.74 L666.7,71.74 L667.2,71.74 L667.7,71.74 L668.2,71.74 L668.7,71.74 L669.2,71.74 L669.7,71.75 L670.2,71.75 L670.7,71.75 L671.2,71.75 L671.7,71.75 L672.2,71.75 L672.7,71.75 L673.2,71.75 L673.7,71.75 L674.2,71.75 L674.7,71.75 L675.2,71.75 L675.7,71.75 L676.2,71.75 L676.7,71.75 L677.2,71.75 L677.7,71.75 L678.2,71.75 L678.7,71.75 L679.2,71.75 L679.7,71.75 L680.2,71.75 L680.7,71.75 L681.2,71.75 L681.7,71.75 L682.2,71.75 L682.7,71.75 L683.2,71.75 L683.7,71.75 L684.2,71.76 L684.7,71.76 L685.2,71.76 L685.7,71.76 L686.2,71.76 L686.7,71.76 L687.2,71.76 L687.7,71.76 L688.2,71.76 L688.7,71.76 L689.2,71.76 L689.7,71.76 L690.2,71.76 L690.7,71.76 L691.2,71.76 L691.7,71.76 L692.2,71.76 L692.7,71.76 L693.2,71.76 L693.7,71.76 L694.2,71.76 L694.7,71.76 L695.2,71.76 L695.7,71.76 L696.2,71.76 L696.7,71.76 L697.2,71.76 L697.7,71.76 L698.2,71.76 L698.7,71.76 L699.2,71.77 L699.7,71.77 L700.2,71.77 L700.7,71.77 L701.2,71.77 L701.7,71.77 L702.2,71.77 L702.7,71.77 L703.2,71.77 L703.7,71.77 L704.2,71.77 L704.7,71.77 L705.2,71.77 L705.7,71.77 L706.2,71.77 L706.7,71.77 L707.2,71.77 L707.7,71.77 L708.2,71.77 L708.7,71.77 L709.2,71.77 L709.7,71.77 L710.2,71.77 L710.7,71.77 L711.2,71.77 L711.7,71.77 L712.2,71.77 L712.7,71.77 L713.2,71.77 L713.7,71.78 L714.2,71.78 L714.7,71.78 L715.2,71.78 L715.7,71.78 L716.2,71.78 L716.7,71.78 L717.2,71.78 L717.7,71.78 L718.2,71.78 L718.7,71.78 L719.2,71.78 L719.7,71.78 L720.2,71.78 L720.7,71.78 L721.2,71.78 L721.7,71.78 L722.2,71.78 L722.7,71.78 L723.2,71.78 L723.7,71.78 L724.2,71.78 L724.7,71.78 L725.2,71.78 L725.7,71.78 L726.2,71.78 L726.7,71.78 L727.2,71.78 L727.7,71.78 L728.2,71.78 L728.7,71.79 L729.2,71.79 L729.7,71.79 L730.2,71.79 L730.7,71.79 L731.2,71.79 L731.7,71.79 L732.2,71.79 L732.7,71.79 L733.2,71.79 L733.7,71.79 L734.2,71.79 L734.7,71.79 L735.2,71.79 L735.7,71.79 L736.2,71.79 L736.7,71.79 L737.2,71.79 L737.7,71.79 L738.2,71.79 L738.7,71.79 L739.2,71.79 L739.7,71.79 L740.2,71.79 L740.7,71.79 L741.2,71.79 L741.7,71.79 L742.2,71.79 L742.7,71.79 L743.2,71.80 L743.7,71.80 L744.2,71.80 L744.7,71.80 L745.2,71.80 L745.7,71.80 L746.2,71.80 L746.7,71.80 L747.2,71.80 L747.7,71.80 L748.2,71.80 L748.7,71.80 L749.2,71.80 L749.7,71.80 L750.2,71.80" fill="none" stroke="#80202e" stroke-width="2.2" stroke-linejoin="round" />
<path d="M455.2,96.00 L455.7,96.00 L456.2,96.00 L456.7,96.00 L457.2,96.00 L457.7,96.00 L458.2,96.00 L458.7,96.00 L459.2,96.00 L459.7,96.00 L460.2,96.00 L460.7,96.00 L461.2,96.00 L461.7,96.00 L462.2,96.00 L462.7,96.00 L463.2,96.00 L463.7,96.00 L464.2,96.00 L464.7,96.00 L465.2,96.00 L465.7,96.00 L466.2,96.00 L466.7,96.00 L467.2,96.00 L467.7,96.00 L468.2,96.00 L468.7,96.00 L469.2,96.00 L469.7,96.00 L470.2,96.00 L470.7,96.00 L471.2,96.00 L471.7,96.00 L472.2,96.00 L472.7,96.00 L473.2,96.00 L473.7,96.00 L474.2,96.00 L474.7,96.00 L475.2,96.00 L475.7,96.00 L476.2,96.00 L476.7,96.00 L477.2,96.00 L477.7,96.00 L478.2,96.00 L478.7,96.00 L479.2,96.00 L479.7,96.00 L480.2,96.00 L480.7,96.00 L481.2,96.00 L481.7,96.00 L482.2,96.00 L482.7,96.00 L483.2,96.00 L483.7,96.00 L484.2,96.00 L484.7,96.00 L485.2,96.00 L485.7,96.00 L486.2,96.00 L486.7,96.00 L487.2,96.00 L487.7,96.00 L488.2,96.00 L488.7,96.00 L489.2,96.00 L489.7,96.00 L490.2,96.00 L490.7,96.00 L491.2,96.00 L491.7,96.00 L492.2,96.00 L492.7,96.00 L493.2,96.00 L493.7,96.00 L494.2,96.00 L494.7,96.00 L495.2,96.00 L495.7,96.00 L496.2,96.00 L496.7,96.00 L497.2,96.00 L497.7,96.00 L498.2,96.00 L498.7,96.00 L499.2,96.00 L499.7,96.00 L500.2,96.00 L500.7,96.00 L501.2,96.00 L501.7,96.00 L502.2,96.00 L502.7,96.00 L503.2,96.00 L503.7,95.99 L504.2,95.99 L504.7,95.98 L505.2,95.97 L505.7,95.95 L506.2,95.93 L506.7,95.89 L507.2,95.83 L507.7,95.72 L508.2,95.56 L508.7,95.31 L509.2,94.91 L509.7,94.34 L510.2,93.51 L510.7,92.39 L511.2,90.94 L511.7,89.18 L512.2,87.14 L512.7,84.97 L513.2,82.82 L513.7,80.90 L514.2,79.41 L514.7,78.51 L515.2,78.31 L515.7,78.80 L516.2,79.90 L516.7,81.46 L517.2,83.31 L517.7,85.24 L518.2,87.10 L518.7,88.78 L519.2,90.20 L519.7,91.36 L520.2,92.27 L520.7,92.96 L521.2,93.47 L521.7,93.84 L522.2,94.12 L522.7,94.33 L523.2,94.49 L523.7,94.62 L524.2,94.73 L524.7,94.82 L525.2,94.90 L525.7,94.97 L526.2,95.03 L526.7,95.09 L527.2,95.15 L527.7,95.20 L528.2,95.25 L528.7,95.30 L529.2,95.34 L529.7,95.38 L530.2,95.42 L530.7,95.45 L531.2,95.49 L531.7,95.52 L532.2,95.55 L532.7,95.57 L533.2,95.60 L533.7,95.62 L534.2,95.65 L534.7,95.67 L535.2,95.69 L535.7,95.71 L536.2,95.72 L536.7,95.74 L537.2,95.76 L537.7,95.77 L538.2,95.79 L538.7,95.80 L539.2,95.81 L539.7,95.82 L540.2,95.83 L540.7,95.84 L541.2,95.85 L541.7,95.86 L542.2,95.87 L542.7,95.88 L543.2,95.89 L543.7,95.89 L544.2,95.90 L544.7,95.90 L545.2,95.91 L545.7,95.92 L546.2,95.92 L546.7,95.93 L547.2,95.93 L547.7,95.93 L548.2,95.94 L548.7,95.94 L549.2,95.95 L549.7,95.95 L550.2,95.95 L550.7,95.96 L551.2,95.96 L551.7,95.96 L552.2,95.96 L552.7,95.97 L553.2,95.97 L553.7,95.97 L554.2,95.97 L554.7,95.97 L555.2,95.97 L555.7,95.98 L556.2,95.98 L556.7,95.98 L557.2,95.98 L557.7,95.98 L558.2,95.98 L558.7,95.98 L559.2,95.98 L559.7,95.99 L560.2,95.99 L560.7,95.99 L561.2,95.99 L561.7,95.99 L562.2,95.99 L562.7,95.99 L563.2,95.99 L563.7,95.99 L564.2,95.99 L564.7,95.99 L565.2,95.99 L565.7,95.99 L566.2,95.99 L566.7,95.99 L567.2,95.99 L567.7,95.99 L568.2,95.99 L568.7,96.00 L569.2,96.00 L569.7,96.00 L570.2,96.00 L570.7,96.00 L571.2,96.00 L571.7,96.00 L572.2,96.00 L572.7,96.00 L573.2,96.00 L573.7,96.00 L574.2,96.00 L574.7,96.00 L575.2,96.00 L575.7,96.00 L576.2,96.00 L576.7,96.00 L577.2,96.00 L577.7,96.00 L578.2,96.00 L578.7,96.00 L579.2,96.00 L579.7,96.00 L580.2,96.00 L580.7,96.00 L581.2,96.00 L581.7,96.00 L582.2,96.00 L582.7,96.00 L583.2,96.00 L583.7,96.00 L584.2,96.00 L584.7,96.00 L585.2,96.00 L585.7,96.00 L586.2,96.00 L586.7,96.00 L587.2,96.00 L587.7,96.00 L588.2,96.00 L588.7,96.00 L589.2,96.00 L589.7,96.00 L590.2,96.00 L590.7,96.00 L591.2,96.00 L591.7,96.00 L592.2,96.00 L592.7,96.00 L593.2,96.00 L593.7,96.00 L594.2,96.00 L594.7,96.00 L595.2,96.00 L595.7,96.00 L596.2,96.00 L596.7,96.00 L597.2,96.00 L597.7,96.00 L598.2,96.00 L598.7,96.00 L599.2,96.00 L599.7,96.00 L600.2,96.00 L600.7,96.00 L601.2,96.00 L601.7,96.00 L602.2,96.00 L602.7,96.00 L603.2,96.00 L603.7,96.00 L604.2,96.00 L604.7,96.00 L605.2,96.00 L605.7,96.00 L606.2,96.00 L606.7,96.00 L607.2,96.00 L607.7,96.00 L608.2,96.00 L608.7,96.00 L609.2,96.00 L609.7,96.00 L610.2,96.00 L610.7,96.00 L611.2,96.00 L611.7,96.00 L612.2,96.00 L612.7,96.00 L613.2,96.00 L613.7,96.00 L614.2,96.00 L614.7,96.00 L615.2,96.00 L615.7,96.00 L616.2,96.00 L616.7,96.00 L617.2,96.00 L617.7,96.00 L618.2,96.00 L618.7,96.00 L619.2,96.00 L619.7,96.00 L620.2,96.00 L620.7,96.00 L621.2,96.00 L621.7,96.00 L622.2,96.00 L622.7,96.00 L623.2,96.00 L623.7,96.00 L624.2,96.00 L624.7,96.00 L625.2,96.00 L625.7,96.00 L626.2,96.00 L626.7,96.00 L627.2,96.00 L627.7,96.00 L628.2,96.00 L628.7,96.00 L629.2,96.00 L629.7,96.00 L630.2,96.00 L630.7,96.00 L631.2,96.00 L631.7,96.00 L632.2,96.00 L632.7,96.00 L633.2,96.00 L633.7,96.00 L634.2,96.00 L634.7,96.00 L635.2,96.00 L635.7,96.00 L636.2,96.00 L636.7,96.00 L637.2,96.00 L637.7,96.00 L638.2,96.00 L638.7,96.00 L639.2,96.00 L639.7,96.00 L640.2,96.00 L640.7,96.00 L641.2,96.00 L641.7,96.00 L642.2,96.00 L642.7,96.00 L643.2,96.00 L643.7,96.00 L644.2,96.00 L644.7,96.00 L645.2,96.00 L645.7,96.00 L646.2,96.00 L646.7,96.00 L647.2,96.00 L647.7,96.00 L648.2,96.00 L648.7,96.00 L649.2,96.00 L649.7,96.00 L650.2,96.00 L650.7,96.00 L651.2,96.00 L651.7,96.00 L652.2,96.00 L652.7,96.00 L653.2,96.00 L653.7,96.00 L654.2,96.00 L654.7,96.00 L655.2,96.00 L655.7,96.00 L656.2,96.00 L656.7,96.00 L657.2,96.00 L657.7,96.00 L658.2,96.00 L658.7,96.00 L659.2,96.00 L659.7,96.00 L660.2,96.00 L660.7,96.00 L661.2,96.00 L661.7,96.00 L662.2,96.00 L662.7,96.00 L663.2,96.00 L663.7,96.00 L664.2,96.00 L664.7,96.00 L665.2,96.00 L665.7,96.00 L666.2,96.00 L666.7,96.00 L667.2,96.00 L667.7,96.00 L668.2,96.00 L668.7,96.00 L669.2,96.00 L669.7,96.00 L670.2,96.00 L670.7,96.00 L671.2,96.00 L671.7,96.00 L672.2,96.00 L672.7,96.00 L673.2,96.00 L673.7,96.00 L674.2,96.00 L674.7,96.00 L675.2,96.00 L675.7,96.00 L676.2,96.00 L676.7,96.00 L677.2,96.00 L677.7,96.00 L678.2,96.00 L678.7,96.00 L679.2,96.00 L679.7,96.00 L680.2,96.00 L680.7,96.00 L681.2,96.00 L681.7,96.00 L682.2,96.00 L682.7,96.00 L683.2,96.00 L683.7,96.00 L684.2,96.00 L684.7,96.00 L685.2,96.00 L685.7,96.00 L686.2,96.00 L686.7,96.00 L687.2,96.00 L687.7,96.00 L688.2,96.00 L688.7,96.00 L689.2,96.00 L689.7,96.00 L690.2,96.00 L690.7,96.00 L691.2,96.00 L691.7,96.00 L692.2,96.00 L692.7,96.00 L693.2,96.00 L693.7,96.00 L694.2,96.00 L694.7,96.00 L695.2,96.00 L695.7,96.00 L696.2,96.00 L696.7,96.00 L697.2,96.00 L697.7,96.00 L698.2,96.00 L698.7,96.00 L699.2,96.00 L699.7,96.00 L700.2,96.00 L700.7,96.00 L701.2,96.00 L701.7,96.00 L702.2,96.00 L702.7,96.00 L703.2,96.00 L703.7,96.00 L704.2,96.00 L704.7,96.00 L705.2,96.00 L705.7,96.00 L706.2,96.00 L706.7,96.00 L707.2,96.00 L707.7,96.00 L708.2,96.00 L708.7,96.00 L709.2,96.00 L709.7,96.00 L710.2,96.00 L710.7,96.00 L711.2,96.00 L711.7,96.00 L712.2,96.00 L712.7,96.00 L713.2,96.00 L713.7,96.00 L714.2,96.00 L714.7,96.00 L715.2,96.00 L715.7,96.00 L716.2,96.00 L716.7,96.00 L717.2,96.00 L717.7,96.00 L718.2,96.00 L718.7,96.00 L719.2,96.00 L719.7,96.00 L720.2,96.00 L720.7,96.00 L721.2,96.00 L721.7,96.00 L722.2,96.00 L722.7,96.00 L723.2,96.00 L723.7,96.00 L724.2,96.00 L724.7,96.00 L725.2,96.00 L725.7,96.00 L726.2,96.00 L726.7,96.00 L727.2,96.00 L727.7,96.00 L728.2,96.00 L728.7,96.00 L729.2,96.00 L729.7,96.00 L730.2,96.00 L730.7,96.00 L731.2,96.00 L731.7,96.00 L732.2,96.00 L732.7,96.00 L733.2,96.00 L733.7,96.00 L734.2,96.00 L734.7,96.00 L735.2,96.00 L735.7,96.00 L736.2,96.00 L736.7,96.00 L737.2,96.00 L737.7,96.00 L738.2,96.00 L738.7,96.00 L739.2,96.00 L739.7,96.00 L740.2,96.00 L740.7,96.00 L741.2,96.00 L741.7,96.00 L742.2,96.00 L742.7,96.00 L743.2,96.00 L743.7,96.00 L744.2,96.00 L744.7,96.00 L745.2,96.00 L745.7,96.00 L746.2,96.00 L746.7,96.00 L747.2,96.00 L747.7,96.00 L748.2,96.00 L748.7,96.00 L749.2,96.00 L749.7,96.00 L750.2,96.00" fill="none" stroke="#232b52" stroke-width="2.2" stroke-linejoin="round" />
<path d="M455.2,163.40 L455.7,163.40 L456.2,163.40 L456.7,163.40 L457.2,163.40 L457.7,163.40 L458.2,163.40 L458.7,163.40 L459.2,163.40 L459.7,163.40 L460.2,163.40 L460.7,163.40 L461.2,163.40 L461.7,163.40 L462.2,163.40 L462.7,163.40 L463.2,163.40 L463.7,163.40 L464.2,163.40 L464.7,163.40 L465.2,163.40 L465.7,163.40 L466.2,163.40 L466.7,163.40 L467.2,163.40 L467.7,163.40 L468.2,163.40 L468.7,163.40 L469.2,163.40 L469.7,163.40 L470.2,163.40 L470.7,163.40 L471.2,163.40 L471.7,163.40 L472.2,163.40 L472.7,163.40 L473.2,163.40 L473.7,163.40 L474.2,163.40 L474.7,163.40 L475.2,163.40 L475.7,163.40 L476.2,163.40 L476.7,163.40 L477.2,163.40 L477.7,163.40 L478.2,163.40 L478.7,163.40 L479.2,163.40 L479.7,163.40 L480.2,163.40 L480.7,163.40 L481.2,163.40 L481.7,163.40 L482.2,163.40 L482.7,163.40 L483.2,163.40 L483.7,163.40 L484.2,163.40 L484.7,163.40 L485.2,163.40 L485.7,163.40 L486.2,163.40 L486.7,163.40 L487.2,163.40 L487.7,163.40 L488.2,163.40 L488.7,163.40 L489.2,163.40 L489.7,163.40 L490.2,163.40 L490.7,163.40 L491.2,163.40 L491.7,163.40 L492.2,163.40 L492.7,163.40 L493.2,163.40 L493.7,163.40 L494.2,163.40 L494.7,163.40 L495.2,163.40 L495.7,163.40 L496.2,163.40 L496.7,163.40 L497.2,163.40 L497.7,163.40 L498.2,163.40 L498.7,163.40 L499.2,163.40 L499.7,163.40 L500.2,163.40 L500.7,163.40 L501.2,163.40 L501.7,163.40 L502.2,163.39 L502.7,163.39 L503.2,163.39 L503.7,163.38 L504.2,163.36 L504.7,163.34 L505.2,163.31 L505.7,163.26 L506.2,163.18 L506.7,163.05 L507.2,162.84 L507.7,162.52 L508.2,162.00 L508.7,161.22 L509.2,160.05 L509.7,158.39 L510.2,156.13 L510.7,153.21 L511.2,149.64 L511.7,145.54 L512.2,141.15 L512.7,136.82 L513.2,132.94 L513.7,129.94 L514.2,128.13 L514.7,127.72 L515.2,128.71 L515.7,130.93 L516.2,134.09 L516.7,137.81 L517.2,141.71 L517.7,145.47 L518.2,148.86 L518.7,151.74 L519.2,154.08 L519.7,155.91 L520.2,157.29 L520.7,158.32 L521.2,159.08 L521.7,159.64 L522.2,160.06 L522.7,160.38 L523.2,160.64 L523.7,160.85 L524.2,161.03 L524.7,161.19 L525.2,161.34 L525.7,161.47 L526.2,161.59 L526.7,161.70 L527.2,161.81 L527.7,161.90 L528.2,161.99 L528.7,162.08 L529.2,162.16 L529.7,162.23 L530.2,162.31 L530.7,162.37 L531.2,162.43 L531.7,162.49 L532.2,162.55 L532.7,162.60 L533.2,162.65 L533.7,162.69 L534.2,162.74 L534.7,162.78 L535.2,162.81 L535.7,162.85 L536.2,162.88 L536.7,162.91 L537.2,162.94 L537.7,162.97 L538.2,163.00 L538.7,163.02 L539.2,163.04 L539.7,163.07 L540.2,163.09 L540.7,163.11 L541.2,163.12 L541.7,163.14 L542.2,163.16 L542.7,163.17 L543.2,163.18 L543.7,163.20 L544.2,163.21 L544.7,163.22 L545.2,163.23 L545.7,163.24 L546.2,163.25 L546.7,163.26 L547.2,163.27 L547.7,163.28 L548.2,163.28 L548.7,163.29 L549.2,163.30 L549.7,163.30 L550.2,163.31 L550.7,163.32 L551.2,163.32 L551.7,163.33 L552.2,163.33 L552.7,163.33 L553.2,163.34 L553.7,163.34 L554.2,163.35 L554.7,163.35 L555.2,163.35 L555.7,163.35 L556.2,163.36 L556.7,163.36 L557.2,163.36 L557.7,163.36 L558.2,163.37 L558.7,163.37 L559.2,163.37 L559.7,163.37 L560.2,163.37 L560.7,163.38 L561.2,163.38 L561.7,163.38 L562.2,163.38 L562.7,163.38 L563.2,163.38 L563.7,163.38 L564.2,163.38 L564.7,163.39 L565.2,163.39 L565.7,163.39 L566.2,163.39 L566.7,163.39 L567.2,163.39 L567.7,163.39 L568.2,163.39 L568.7,163.39 L569.2,163.39 L569.7,163.39 L570.2,163.39 L570.7,163.39 L571.2,163.39 L571.7,163.39 L572.2,163.39 L572.7,163.39 L573.2,163.39 L573.7,163.40 L574.2,163.40 L574.7,163.40 L575.2,163.40 L575.7,163.40 L576.2,163.40 L576.7,163.40 L577.2,163.40 L577.7,163.40 L578.2,163.40 L578.7,163.40 L579.2,163.40 L579.7,163.40 L580.2,163.40 L580.7,163.40 L581.2,163.40 L581.7,163.40 L582.2,163.40 L582.7,163.40 L583.2,163.40 L583.7,163.40 L584.2,163.40 L584.7,163.40 L585.2,163.40 L585.7,163.40 L586.2,163.40 L586.7,163.40 L587.2,163.40 L587.7,163.40 L588.2,163.40 L588.7,163.40 L589.2,163.40 L589.7,163.40 L590.2,163.40 L590.7,163.40 L591.2,163.40 L591.7,163.40 L592.2,163.40 L592.7,163.40 L593.2,163.40 L593.7,163.40 L594.2,163.40 L594.7,163.40 L595.2,163.40 L595.7,163.40 L596.2,163.40 L596.7,163.40 L597.2,163.40 L597.7,163.40 L598.2,163.40 L598.7,163.40 L599.2,163.40 L599.7,163.40 L600.2,163.40 L600.7,163.40 L601.2,163.40 L601.7,163.40 L602.2,163.40 L602.7,163.40 L603.2,163.40 L603.7,163.40 L604.2,163.40 L604.7,163.40 L605.2,163.40 L605.7,163.40 L606.2,163.40 L606.7,163.40 L607.2,163.40 L607.7,163.40 L608.2,163.40 L608.7,163.40 L609.2,163.40 L609.7,163.40 L610.2,163.40 L610.7,163.40 L611.2,163.40 L611.7,163.40 L612.2,163.40 L612.7,163.40 L613.2,163.40 L613.7,163.40 L614.2,163.40 L614.7,163.40 L615.2,163.40 L615.7,163.40 L616.2,163.40 L616.7,163.40 L617.2,163.40 L617.7,163.40 L618.2,163.40 L618.7,163.40 L619.2,163.40 L619.7,163.40 L620.2,163.40 L620.7,163.40 L621.2,163.40 L621.7,163.40 L622.2,163.40 L622.7,163.40 L623.2,163.40 L623.7,163.40 L624.2,163.40 L624.7,163.40 L625.2,163.40 L625.7,163.40 L626.2,163.40 L626.7,163.40 L627.2,163.40 L627.7,163.40 L628.2,163.40 L628.7,163.40 L629.2,163.40 L629.7,163.40 L630.2,163.40 L630.7,163.40 L631.2,163.40 L631.7,163.40 L632.2,163.40 L632.7,163.40 L633.2,163.40 L633.7,163.40 L634.2,163.40 L634.7,163.40 L635.2,163.40 L635.7,163.40 L636.2,163.40 L636.7,163.40 L637.2,163.40 L637.7,163.40 L638.2,163.40 L638.7,163.40 L639.2,163.40 L639.7,163.40 L640.2,163.40 L640.7,163.40 L641.2,163.40 L641.7,163.40 L642.2,163.40 L642.7,163.40 L643.2,163.40 L643.7,163.40 L644.2,163.40 L644.7,163.40 L645.2,163.40 L645.7,163.40 L646.2,163.40 L646.7,163.40 L647.2,163.40 L647.7,163.40 L648.2,163.40 L648.7,163.40 L649.2,163.40 L649.7,163.40 L650.2,163.40 L650.7,163.40 L651.2,163.40 L651.7,163.40 L652.2,163.40 L652.7,163.40 L653.2,163.40 L653.7,163.40 L654.2,163.40 L654.7,163.40 L655.2,163.40 L655.7,163.40 L656.2,163.40 L656.7,163.40 L657.2,163.40 L657.7,163.40 L658.2,163.40 L658.7,163.40 L659.2,163.40 L659.7,163.40 L660.2,163.40 L660.7,163.40 L661.2,163.40 L661.7,163.40 L662.2,163.40 L662.7,163.40 L663.2,163.40 L663.7,163.40 L664.2,163.40 L664.7,163.40 L665.2,163.40 L665.7,163.40 L666.2,163.40 L666.7,163.40 L667.2,163.40 L667.7,163.40 L668.2,163.40 L668.7,163.40 L669.2,163.40 L669.7,163.40 L670.2,163.40 L670.7,163.40 L671.2,163.40 L671.7,163.40 L672.2,163.40 L672.7,163.40 L673.2,163.40 L673.7,163.40 L674.2,163.40 L674.7,163.40 L675.2,163.40 L675.7,163.40 L676.2,163.40 L676.7,163.40 L677.2,163.40 L677.7,163.40 L678.2,163.40 L678.7,163.40 L679.2,163.40 L679.7,163.40 L680.2,163.40 L680.7,163.40 L681.2,163.40 L681.7,163.40 L682.2,163.40 L682.7,163.40 L683.2,163.40 L683.7,163.40 L684.2,163.40 L684.7,163.40 L685.2,163.40 L685.7,163.40 L686.2,163.40 L686.7,163.40 L687.2,163.40 L687.7,163.40 L688.2,163.40 L688.7,163.40 L689.2,163.40 L689.7,163.40 L690.2,163.40 L690.7,163.40 L691.2,163.40 L691.7,163.40 L692.2,163.40 L692.7,163.40 L693.2,163.40 L693.7,163.40 L694.2,163.40 L694.7,163.40 L695.2,163.40 L695.7,163.40 L696.2,163.40 L696.7,163.40 L697.2,163.40 L697.7,163.40 L698.2,163.40 L698.7,163.40 L699.2,163.40 L699.7,163.40 L700.2,163.40 L700.7,163.40 L701.2,163.40 L701.7,163.40 L702.2,163.40 L702.7,163.40 L703.2,163.40 L703.7,163.40 L704.2,163.40 L704.7,163.40 L705.2,163.40 L705.7,163.40 L706.2,163.40 L706.7,163.40 L707.2,163.40 L707.7,163.40 L708.2,163.40 L708.7,163.40 L709.2,163.40 L709.7,163.40 L710.2,163.40 L710.7,163.40 L711.2,163.40 L711.7,163.40 L712.2,163.40 L712.7,163.40 L713.2,163.40 L713.7,163.40 L714.2,163.40 L714.7,163.40 L715.2,163.40 L715.7,163.40 L716.2,163.40 L716.7,163.40 L717.2,163.40 L717.7,163.40 L718.2,163.40 L718.7,163.40 L719.2,163.40 L719.7,163.40 L720.2,163.40 L720.7,163.40 L721.2,163.40 L721.7,163.40 L722.2,163.40 L722.7,163.40 L723.2,163.40 L723.7,163.40 L724.2,163.40 L724.7,163.40 L725.2,163.40 L725.7,163.40 L726.2,163.40 L726.7,163.40 L727.2,163.40 L727.7,163.40 L728.2,163.40 L728.7,163.40 L729.2,163.40 L729.7,163.40 L730.2,163.40 L730.7,163.40 L731.2,163.40 L731.7,163.40 L732.2,163.40 L732.7,163.40 L733.2,163.40 L733.7,163.40 L734.2,163.40 L734.7,163.40 L735.2,163.40 L735.7,163.40 L736.2,163.40 L736.7,163.40 L737.2,163.40 L737.7,163.40 L738.2,163.40 L738.7,163.40 L739.2,163.40 L739.7,163.40 L740.2,163.40 L740.7,163.40 L741.2,163.40 L741.7,163.40 L742.2,163.40 L742.7,163.40 L743.2,163.40 L743.7,163.40 L744.2,163.40 L744.7,163.40 L745.2,163.40 L745.7,163.40 L746.2,163.40 L746.7,163.40 L747.2,163.40 L747.7,163.40 L748.2,163.40 L748.7,163.40 L749.2,163.40 L749.7,163.40 L750.2,163.40" fill="none" stroke="#d6222f" stroke-width="2.2" stroke-linejoin="round" />
<path d="M455.2,177.30 L455.7,177.30 L456.2,177.30 L456.7,177.30 L457.2,177.30 L457.7,177.30 L458.2,177.30 L458.7,177.30 L459.2,177.30 L459.7,177.30 L460.2,177.30 L460.7,177.30 L461.2,177.30 L461.7,177.30 L462.2,177.30 L462.7,177.30 L463.2,177.30 L463.7,177.30 L464.2,177.30 L464.7,177.30 L465.2,177.30 L465.7,177.30 L466.2,177.30 L466.7,177.30 L467.2,177.30 L467.7,177.30 L468.2,177.30 L468.7,177.30 L469.2,177.30 L469.7,177.30 L470.2,177.30 L470.7,177.30 L471.2,177.30 L471.7,177.30 L472.2,177.30 L472.7,177.30 L473.2,177.30 L473.7,177.30 L474.2,177.30 L474.7,177.30 L475.2,177.30 L475.7,177.30 L476.2,177.30 L476.7,177.30 L477.2,177.30 L477.7,177.30 L478.2,177.30 L478.7,177.30 L479.2,177.30 L479.7,177.30 L480.2,177.30 L480.7,177.30 L481.2,177.30 L481.7,177.30 L482.2,177.30 L482.7,177.30 L483.2,177.30 L483.7,177.30 L484.2,177.30 L484.7,177.30 L485.2,177.30 L485.7,177.30 L486.2,177.30 L486.7,177.30 L487.2,177.30 L487.7,177.30 L488.2,177.30 L488.7,177.30 L489.2,177.30 L489.7,177.30 L490.2,177.30 L490.7,177.30 L491.2,177.30 L491.7,177.30 L492.2,177.30 L492.7,177.30 L493.2,177.30 L493.7,177.30 L494.2,177.30 L494.7,177.30 L495.2,177.30 L495.7,177.30 L496.2,177.30 L496.7,177.30 L497.2,177.30 L497.7,177.30 L498.2,177.30 L498.7,177.30 L499.2,177.30 L499.7,177.30 L500.2,177.30 L500.7,177.30 L501.2,177.30 L501.7,177.30 L502.2,177.30 L502.7,177.29 L503.2,177.29 L503.7,177.28 L504.2,177.27 L504.7,177.25 L505.2,177.23 L505.7,177.19 L506.2,177.12 L506.7,177.02 L507.2,176.86 L507.7,176.64 L508.2,176.32 L508.7,175.91 L509.2,175.38 L509.7,174.75 L510.2,174.04 L510.7,173.31 L511.2,172.61 L511.7,172.02 L512.2,171.60 L512.7,171.39 L513.2,171.41 L513.7,171.66 L514.2,172.09 L514.7,172.66 L515.2,173.29 L515.7,173.93 L516.2,174.53 L516.7,175.06 L517.2,175.50 L517.7,175.86 L518.2,176.13 L518.7,176.33 L519.2,176.49 L519.7,176.60 L520.2,176.68 L520.7,176.75 L521.2,176.80 L521.7,176.84 L522.2,176.87 L522.7,176.90 L523.2,176.93 L523.7,176.95 L524.2,176.97 L524.7,176.99 L525.2,177.01 L525.7,177.03 L526.2,177.05 L526.7,177.06 L527.2,177.08 L527.7,177.09 L528.2,177.10 L528.7,177.11 L529.2,177.13 L529.7,177.14 L530.2,177.15 L530.7,177.16 L531.2,177.16 L531.7,177.17 L532.2,177.18 L532.7,177.19 L533.2,177.19 L533.7,177.20 L534.2,177.21 L534.7,177.21 L535.2,177.22 L535.7,177.22 L536.2,177.23 L536.7,177.23 L537.2,177.24 L537.7,177.24 L538.2,177.24 L538.7,177.25 L539.2,177.25 L539.7,177.25 L540.2,177.26 L540.7,177.26 L541.2,177.26 L541.7,177.26 L542.2,177.27 L542.7,177.27 L543.2,177.27 L543.7,177.27 L544.2,177.27 L544.7,177.27 L545.2,177.28 L545.7,177.28 L546.2,177.28 L546.7,177.28 L547.2,177.28 L547.7,177.28 L548.2,177.28 L548.7,177.28 L549.2,177.29 L549.7,177.29 L550.2,177.29 L550.7,177.29 L551.2,177.29 L551.7,177.29 L552.2,177.29 L552.7,177.29 L553.2,177.29 L553.7,177.29 L554.2,177.29 L554.7,177.29 L555.2,177.29 L555.7,177.29 L556.2,177.29 L556.7,177.29 L557.2,177.29 L557.7,177.30 L558.2,177.30 L558.7,177.30 L559.2,177.30 L559.7,177.30 L560.2,177.30 L560.7,177.30 L561.2,177.30 L561.7,177.30 L562.2,177.30 L562.7,177.30 L563.2,177.30 L563.7,177.30 L564.2,177.30 L564.7,177.30 L565.2,177.30 L565.7,177.30 L566.2,177.30 L566.7,177.30 L567.2,177.30 L567.7,177.30 L568.2,177.30 L568.7,177.30 L569.2,177.30 L569.7,177.30 L570.2,177.30 L570.7,177.30 L571.2,177.30 L571.7,177.30 L572.2,177.30 L572.7,177.30 L573.2,177.30 L573.7,177.30 L574.2,177.30 L574.7,177.30 L575.2,177.30 L575.7,177.30 L576.2,177.30 L576.7,177.30 L577.2,177.30 L577.7,177.30 L578.2,177.30 L578.7,177.30 L579.2,177.30 L579.7,177.30 L580.2,177.30 L580.7,177.30 L581.2,177.30 L581.7,177.30 L582.2,177.30 L582.7,177.30 L583.2,177.30 L583.7,177.30 L584.2,177.30 L584.7,177.30 L585.2,177.30 L585.7,177.30 L586.2,177.30 L586.7,177.30 L587.2,177.30 L587.7,177.30 L588.2,177.30 L588.7,177.30 L589.2,177.30 L589.7,177.30 L590.2,177.30 L590.7,177.30 L591.2,177.30 L591.7,177.30 L592.2,177.30 L592.7,177.30 L593.2,177.30 L593.7,177.30 L594.2,177.30 L594.7,177.30 L595.2,177.30 L595.7,177.30 L596.2,177.30 L596.7,177.30 L597.2,177.30 L597.7,177.30 L598.2,177.30 L598.7,177.30 L599.2,177.30 L599.7,177.30 L600.2,177.30 L600.7,177.30 L601.2,177.30 L601.7,177.30 L602.2,177.30 L602.7,177.30 L603.2,177.30 L603.7,177.30 L604.2,177.30 L604.7,177.30 L605.2,177.30 L605.7,177.30 L606.2,177.30 L606.7,177.30 L607.2,177.30 L607.7,177.30 L608.2,177.30 L608.7,177.30 L609.2,177.30 L609.7,177.30 L610.2,177.30 L610.7,177.30 L611.2,177.30 L611.7,177.30 L612.2,177.30 L612.7,177.30 L613.2,177.30 L613.7,177.30 L614.2,177.30 L614.7,177.30 L615.2,177.30 L615.7,177.30 L616.2,177.30 L616.7,177.30 L617.2,177.30 L617.7,177.30 L618.2,177.30 L618.7,177.30 L619.2,177.30 L619.7,177.30 L620.2,177.30 L620.7,177.30 L621.2,177.30 L621.7,177.30 L622.2,177.30 L622.7,177.30 L623.2,177.30 L623.7,177.30 L624.2,177.30 L624.7,177.30 L625.2,177.30 L625.7,177.30 L626.2,177.30 L626.7,177.30 L627.2,177.30 L627.7,177.30 L628.2,177.30 L628.7,177.30 L629.2,177.30 L629.7,177.30 L630.2,177.30 L630.7,177.30 L631.2,177.30 L631.7,177.30 L632.2,177.30 L632.7,177.30 L633.2,177.30 L633.7,177.30 L634.2,177.30 L634.7,177.30 L635.2,177.30 L635.7,177.30 L636.2,177.30 L636.7,177.30 L637.2,177.30 L637.7,177.30 L638.2,177.30 L638.7,177.30 L639.2,177.30 L639.7,177.30 L640.2,177.30 L640.7,177.30 L641.2,177.30 L641.7,177.30 L642.2,177.30 L642.7,177.30 L643.2,177.30 L643.7,177.30 L644.2,177.30 L644.7,177.30 L645.2,177.30 L645.7,177.30 L646.2,177.30 L646.7,177.30 L647.2,177.30 L647.7,177.30 L648.2,177.30 L648.7,177.30 L649.2,177.30 L649.7,177.30 L650.2,177.30 L650.7,177.30 L651.2,177.30 L651.7,177.30 L652.2,177.30 L652.7,177.30 L653.2,177.30 L653.7,177.30 L654.2,177.30 L654.7,177.30 L655.2,177.30 L655.7,177.30 L656.2,177.30 L656.7,177.30 L657.2,177.30 L657.7,177.30 L658.2,177.30 L658.7,177.30 L659.2,177.30 L659.7,177.30 L660.2,177.30 L660.7,177.30 L661.2,177.30 L661.7,177.30 L662.2,177.30 L662.7,177.30 L663.2,177.30 L663.7,177.30 L664.2,177.30 L664.7,177.30 L665.2,177.30 L665.7,177.30 L666.2,177.30 L666.7,177.30 L667.2,177.30 L667.7,177.30 L668.2,177.30 L668.7,177.30 L669.2,177.30 L669.7,177.30 L670.2,177.30 L670.7,177.30 L671.2,177.30 L671.7,177.30 L672.2,177.30 L672.7,177.30 L673.2,177.30 L673.7,177.30 L674.2,177.30 L674.7,177.30 L675.2,177.30 L675.7,177.30 L676.2,177.30 L676.7,177.30 L677.2,177.30 L677.7,177.30 L678.2,177.30 L678.7,177.30 L679.2,177.30 L679.7,177.30 L680.2,177.30 L680.7,177.30 L681.2,177.30 L681.7,177.30 L682.2,177.30 L682.7,177.30 L683.2,177.30 L683.7,177.30 L684.2,177.30 L684.7,177.30 L685.2,177.30 L685.7,177.30 L686.2,177.30 L686.7,177.30 L687.2,177.30 L687.7,177.30 L688.2,177.30 L688.7,177.30 L689.2,177.30 L689.7,177.30 L690.2,177.30 L690.7,177.30 L691.2,177.30 L691.7,177.30 L692.2,177.30 L692.7,177.30 L693.2,177.30 L693.7,177.30 L694.2,177.30 L694.7,177.30 L695.2,177.30 L695.7,177.30 L696.2,177.30 L696.7,177.30 L697.2,177.30 L697.7,177.30 L698.2,177.30 L698.7,177.30 L699.2,177.30 L699.7,177.30 L700.2,177.30 L700.7,177.30 L701.2,177.30 L701.7,177.30 L702.2,177.30 L702.7,177.30 L703.2,177.30 L703.7,177.30 L704.2,177.30 L704.7,177.30 L705.2,177.30 L705.7,177.30 L706.2,177.30 L706.7,177.30 L707.2,177.30 L707.7,177.30 L708.2,177.30 L708.7,177.30 L709.2,177.30 L709.7,177.30 L710.2,177.30 L710.7,177.30 L711.2,177.30 L711.7,177.30 L712.2,177.30 L712.7,177.30 L713.2,177.30 L713.7,177.30 L714.2,177.30 L714.7,177.30 L715.2,177.30 L715.7,177.30 L716.2,177.30 L716.7,177.30 L717.2,177.30 L717.7,177.30 L718.2,177.30 L718.7,177.30 L719.2,177.30 L719.7,177.30 L720.2,177.30 L720.7,177.30 L721.2,177.30 L721.7,177.30 L722.2,177.30 L722.7,177.30 L723.2,177.30 L723.7,177.30 L724.2,177.30 L724.7,177.30 L725.2,177.30 L725.7,177.30 L726.2,177.30 L726.7,177.30 L727.2,177.30 L727.7,177.30 L728.2,177.30 L728.7,177.30 L729.2,177.30 L729.7,177.30 L730.2,177.30 L730.7,177.30 L731.2,177.30 L731.7,177.30 L732.2,177.30 L732.7,177.30 L733.2,177.30 L733.7,177.30 L734.2,177.30 L734.7,177.30 L735.2,177.30 L735.7,177.30 L736.2,177.30 L736.7,177.30 L737.2,177.30 L737.7,177.30 L738.2,177.30 L738.7,177.30 L739.2,177.30 L739.7,177.30 L740.2,177.30 L740.7,177.30 L741.2,177.30 L741.7,177.30 L742.2,177.30 L742.7,177.30 L743.2,177.30 L743.7,177.30 L744.2,177.30 L744.7,177.30 L745.2,177.30 L745.7,177.30 L746.2,177.30 L746.7,177.30 L747.2,177.30 L747.7,177.30 L748.2,177.30 L748.7,177.30 L749.2,177.30 L749.7,177.30 L750.2,177.30" fill="none" stroke="#2f57a8" stroke-width="2.2" stroke-linejoin="round" />
<path d="M455.2,223.40 L455.7,223.40 L456.2,223.40 L456.7,223.40 L457.2,223.41 L457.7,223.41 L458.2,223.41 L458.7,223.41 L459.2,223.41 L459.7,223.40 L460.2,223.40 L460.7,223.39 L461.2,223.37 L461.7,223.33 L462.2,223.28 L462.7,223.21 L463.2,223.13 L463.7,223.03 L464.2,222.92 L464.7,222.82 L465.2,222.73 L465.7,222.67 L466.2,222.63 L466.7,222.64 L467.2,222.67 L467.7,222.73 L468.2,222.81 L468.7,222.90 L469.2,222.99 L469.7,223.07 L470.2,223.14 L470.7,223.20 L471.2,223.26 L471.7,223.30 L472.2,223.33 L472.7,223.36 L473.2,223.38 L473.7,223.40 L474.2,223.41 L474.7,223.42 L475.2,223.43 L475.7,223.44 L476.2,223.44 L476.7,223.45 L477.2,223.45 L477.7,223.45 L478.2,223.46 L478.7,223.46 L479.2,223.46 L479.7,223.46 L480.2,223.47 L480.7,223.47 L481.2,223.47 L481.7,223.47 L482.2,223.47 L482.7,223.48 L483.2,223.48 L483.7,223.48 L484.2,223.48 L484.7,223.48 L485.2,223.48 L485.7,223.48 L486.2,223.49 L486.7,223.49 L487.2,223.49 L487.7,223.49 L488.2,223.49 L488.7,223.49 L489.2,223.49 L489.7,223.50 L490.2,223.50 L490.7,223.50 L491.2,223.50 L491.7,223.50 L492.2,223.50 L492.7,223.50 L493.2,223.50 L493.7,223.51 L494.2,223.51 L494.7,223.51 L495.2,223.51 L495.7,223.51 L496.2,223.51 L496.7,223.51 L497.2,223.52 L497.7,223.52 L498.2,223.52 L498.7,223.52 L499.2,223.52 L499.7,223.52 L500.2,223.52 L500.7,223.52 L501.2,223.52 L501.7,223.52 L502.2,223.52 L502.7,223.52 L503.2,223.52 L503.7,223.51 L504.2,223.50 L504.7,223.48 L505.2,223.46 L505.7,223.43 L506.2,223.39 L506.7,223.32 L507.2,223.22 L507.7,223.03 L508.2,222.69 L508.7,222.09 L509.2,221.11 L509.7,219.64 L510.2,217.67 L510.7,215.35 L511.2,212.96 L511.7,210.90 L512.2,209.53 L512.7,209.04 L513.2,209.41 L513.7,210.45 L514.2,211.89 L514.7,213.47 L515.2,214.99 L515.7,216.34 L516.2,217.50 L516.7,218.46 L517.2,219.26 L517.7,219.91 L518.2,220.44 L518.7,220.88 L519.2,221.25 L519.7,221.55 L520.2,221.81 L520.7,222.02 L521.2,222.20 L521.7,222.35 L522.2,222.48 L522.7,222.59 L523.2,222.69 L523.7,222.77 L524.2,222.84 L524.7,222.91 L525.2,222.96 L525.7,223.01 L526.2,223.06 L526.7,223.10 L527.2,223.14 L527.7,223.17 L528.2,223.20 L528.7,223.23 L529.2,223.26 L529.7,223.28 L530.2,223.30 L530.7,223.32 L531.2,223.34 L531.7,223.36 L532.2,223.38 L532.7,223.40 L533.2,223.41 L533.7,223.42 L534.2,223.44 L534.7,223.45 L535.2,223.46 L535.7,223.47 L536.2,223.48 L536.7,223.49 L537.2,223.50 L537.7,223.51 L538.2,223.52 L538.7,223.53 L539.2,223.54 L539.7,223.54 L540.2,223.55 L540.7,223.56 L541.2,223.56 L541.7,223.57 L542.2,223.57 L542.7,223.58 L543.2,223.58 L543.7,223.59 L544.2,223.59 L544.7,223.60 L545.2,223.60 L545.7,223.61 L546.2,223.61 L546.7,223.62 L547.2,223.62 L547.7,223.62 L548.2,223.63 L548.7,223.63 L549.2,223.63 L549.7,223.64 L550.2,223.64 L550.7,223.64 L551.2,223.64 L551.7,223.65 L552.2,223.65 L552.7,223.65 L553.2,223.65 L553.7,223.66 L554.2,223.66 L554.7,223.66 L555.2,223.66 L555.7,223.67 L556.2,223.67 L556.7,223.67 L557.2,223.67 L557.7,223.67 L558.2,223.68 L558.7,223.68 L559.2,223.68 L559.7,223.68 L560.2,223.68 L560.7,223.68 L561.2,223.69 L561.7,223.69 L562.2,223.69 L562.7,223.69 L563.2,223.69 L563.7,223.70 L564.2,223.70 L564.7,223.70 L565.2,223.70 L565.7,223.70 L566.2,223.70 L566.7,223.70 L567.2,223.71 L567.7,223.71 L568.2,223.71 L568.7,223.71 L569.2,223.71 L569.7,223.71 L570.2,223.72 L570.7,223.72 L571.2,223.72 L571.7,223.72 L572.2,223.72 L572.7,223.72 L573.2,223.72 L573.7,223.73 L574.2,223.73 L574.7,223.73 L575.2,223.73 L575.7,223.73 L576.2,223.73 L576.7,223.73 L577.2,223.74 L577.7,223.74 L578.2,223.74 L578.7,223.74 L579.2,223.74 L579.7,223.74 L580.2,223.74 L580.7,223.75 L581.2,223.75 L581.7,223.75 L582.2,223.75 L582.7,223.75 L583.2,223.75 L583.7,223.75 L584.2,223.76 L584.7,223.76 L585.2,223.76 L585.7,223.76 L586.2,223.76 L586.7,223.76 L587.2,223.76 L587.7,223.77 L588.2,223.77 L588.7,223.77 L589.2,223.77 L589.7,223.77 L590.2,223.77 L590.7,223.77 L591.2,223.78 L591.7,223.78 L592.2,223.78 L592.7,223.78 L593.2,223.78 L593.7,223.78 L594.2,223.78 L594.7,223.79 L595.2,223.79 L595.7,223.79 L596.2,223.79 L596.7,223.79 L597.2,223.79 L597.7,223.79 L598.2,223.79 L598.7,223.80 L599.2,223.80 L599.7,223.80 L600.2,223.80 L600.7,223.80 L601.2,223.80 L601.7,223.79 L602.2,223.79 L602.7,223.79 L603.2,223.79 L603.7,223.79 L604.2,223.78 L604.7,223.78 L605.2,223.78 L605.7,223.78 L606.2,223.78 L606.7,223.77 L607.2,223.77 L607.7,223.77 L608.2,223.77 L608.7,223.77 L609.2,223.76 L609.7,223.76 L610.2,223.76 L610.7,223.76 L611.2,223.76 L611.7,223.75 L612.2,223.75 L612.7,223.75 L613.2,223.75 L613.7,223.75 L614.2,223.74 L614.7,223.74 L615.2,223.74 L615.7,223.74 L616.2,223.74 L616.7,223.73 L617.2,223.73 L617.7,223.73 L618.2,223.73 L618.7,223.73 L619.2,223.72 L619.7,223.72 L620.2,223.72 L620.7,223.72 L621.2,223.72 L621.7,223.71 L622.2,223.71 L622.7,223.71 L623.2,223.71 L623.7,223.71 L624.2,223.70 L624.7,223.70 L625.2,223.70 L625.7,223.70 L626.2,223.70 L626.7,223.69 L627.2,223.69 L627.7,223.69 L628.2,223.69 L628.7,223.69 L629.2,223.68 L629.7,223.68 L630.2,223.68 L630.7,223.68 L631.2,223.68 L631.7,223.67 L632.2,223.67 L632.7,223.67 L633.2,223.67 L633.7,223.67 L634.2,223.66 L634.7,223.66 L635.2,223.66 L635.7,223.66 L636.2,223.66 L636.7,223.65 L637.2,223.65 L637.7,223.65 L638.2,223.65 L638.7,223.65 L639.2,223.64 L639.7,223.64 L640.2,223.64 L640.7,223.64 L641.2,223.64 L641.7,223.63 L642.2,223.63 L642.7,223.63 L643.2,223.63 L643.7,223.63 L644.2,223.62 L644.7,223.62 L645.2,223.62 L645.7,223.62 L646.2,223.62 L646.7,223.61 L647.2,223.61 L647.7,223.61 L648.2,223.61 L648.7,223.61 L649.2,223.60 L649.7,223.60 L650.2,223.59 L650.7,223.57 L651.2,223.55 L651.7,223.53 L652.2,223.51 L652.7,223.49 L653.2,223.47 L653.7,223.44 L654.2,223.42 L654.7,223.40 L655.2,223.38 L655.7,223.36 L656.2,223.34 L656.7,223.32 L657.2,223.30 L657.7,223.28 L658.2,223.26 L658.7,223.23 L659.2,223.21 L659.7,223.19 L660.2,223.17 L660.7,223.15 L661.2,223.13 L661.7,223.11 L662.2,223.09 L662.7,223.07 L663.2,223.05 L663.7,223.02 L664.2,223.00 L664.7,222.98 L665.2,222.96 L665.7,222.94 L666.2,222.92 L666.7,222.90 L667.2,222.88 L667.7,222.86 L668.2,222.84 L668.7,222.81 L669.2,222.79 L669.7,222.77 L670.2,222.75 L670.7,222.73 L671.2,222.71 L671.7,222.69 L672.2,222.67 L672.7,222.65 L673.2,222.63 L673.7,222.60 L674.2,222.58 L674.7,222.56 L675.2,222.54 L675.7,222.52 L676.2,222.50 L676.7,222.48 L677.2,222.46 L677.7,222.44 L678.2,222.42 L678.7,222.39 L679.2,222.37 L679.7,222.35 L680.2,222.33 L680.7,222.31 L681.2,222.29 L681.7,222.27 L682.2,222.25 L682.7,222.23 L683.2,222.21 L683.7,222.18 L684.2,222.16 L684.7,222.14 L685.2,222.12 L685.7,222.10 L686.2,222.08 L686.7,222.06 L687.2,222.04 L687.7,222.02 L688.2,222.00 L688.7,221.97 L689.2,221.95 L689.7,221.93 L690.2,221.91 L690.7,221.89 L691.2,221.87 L691.7,221.85 L692.2,221.83 L692.7,221.81 L693.2,221.79 L693.7,221.76 L694.2,221.74 L694.7,221.72 L695.2,221.70 L695.7,221.68 L696.2,221.66 L696.7,221.64 L697.2,221.62 L697.7,221.60 L698.2,221.58 L698.7,221.55 L699.2,221.53 L699.7,221.51 L700.2,221.49 L700.7,221.46 L701.2,221.44 L701.7,221.41 L702.2,221.38 L702.7,221.36 L703.2,221.33 L703.7,221.30 L704.2,221.27 L704.7,221.25 L705.2,221.22 L705.7,221.19 L706.2,221.17 L706.7,221.14 L707.2,221.11 L707.7,221.09 L708.2,221.06 L708.7,221.03 L709.2,221.01 L709.7,220.98 L710.2,220.95 L710.7,220.93 L711.2,220.90 L711.7,220.87 L712.2,220.85 L712.7,220.82 L713.2,220.79 L713.7,220.77 L714.2,220.74 L714.7,220.71 L715.2,220.69 L715.7,220.66 L716.2,220.63 L716.7,220.61 L717.2,220.58 L717.7,220.55 L718.2,220.52 L718.7,220.50 L719.2,220.47 L719.7,220.44 L720.2,220.42 L720.7,220.39 L721.2,220.36 L721.7,220.34 L722.2,220.31 L722.7,220.28 L723.2,220.26 L723.7,220.23 L724.2,220.20 L724.7,220.18 L725.2,220.15 L725.7,220.12 L726.2,220.10 L726.7,220.07 L727.2,220.04 L727.7,220.02 L728.2,219.99 L728.7,219.96 L729.2,219.94 L729.7,219.91 L730.2,219.88 L730.7,219.86 L731.2,219.83 L731.7,219.80 L732.2,219.77 L732.7,219.75 L733.2,219.72 L733.7,219.69 L734.2,219.67 L734.7,219.64 L735.2,219.61 L735.7,219.59 L736.2,219.56 L736.7,219.53 L737.2,219.51 L737.7,219.48 L738.2,219.45 L738.7,219.43 L739.2,219.40 L739.7,219.37 L740.2,219.35 L740.7,219.32 L741.2,219.29 L741.7,219.27 L742.2,219.24 L742.7,219.21 L743.2,219.19 L743.7,219.16 L744.2,219.13 L744.7,219.11 L745.2,219.08 L745.7,219.05 L746.2,219.02 L746.7,219.00 L747.2,218.97 L747.7,218.94 L748.2,218.92 L748.7,218.89 L749.2,218.86 L749.7,218.84 L750.2,218.81" fill="none" stroke="#dc4454" stroke-width="2.0" stroke-linejoin="round" />
<text transform="translate(507.6,151) rotate(-90)" class="ann" style="font-size:10px" textLength="39.4">Guanine</text>
<path d="M85.5,22.5 V182.8 M95.2,22.5 V182.8 M247.6,24 V183.5" stroke="#111" stroke-width="1.6" stroke-dasharray="2.6,2.2"/>
<path d="M513.6,23.7 V224" stroke="#111" stroke-width="1.6" stroke-dasharray="2.6,2.2"/>
<path d="M79.2,300 H84.6 V497.1 M79.2,366.1 H84.6 M79.2,431.4 H84.6 M79.2,497.1 H380.1" stroke="#000" stroke-width="1.8" fill="none"/>
<path d="M84.6,497.1 V502.3" stroke="#000" stroke-width="1.8" fill="none"/>
<text x="84.6" y="518.3" text-anchor="middle" class="tc">0</text>
<path d="M143.7,497.1 V502.3" stroke="#000" stroke-width="1.8" fill="none"/>
<text x="143.7" y="518.3" text-anchor="middle" class="tc">50</text>
<path d="M202.8,497.1 V502.3" stroke="#000" stroke-width="1.8" fill="none"/>
<text x="202.8" y="518.3" text-anchor="middle" class="tc">100</text>
<path d="M261.9,497.1 V502.3" stroke="#000" stroke-width="1.8" fill="none"/>
<text x="261.9" y="518.3" text-anchor="middle" class="tc">150</text>
<path d="M321.0,497.1 V502.3" stroke="#000" stroke-width="1.8" fill="none"/>
<text x="321.0" y="518.3" text-anchor="middle" class="tc">200</text>
<path d="M380.1,497.1 V502.3" stroke="#000" stroke-width="1.8" fill="none"/>
<text x="380.1" y="518.3" text-anchor="middle" class="tc">250</text>
<text x="70" y="306.0" text-anchor="end" class="tc">2.7×10<tspan dy="-5.5" style="font-size:9.5px">7</tspan></text>
<text x="70" y="372.1" text-anchor="end" class="tc">1.8×10<tspan dy="-5.5" style="font-size:9.5px">7</tspan></text>
<text x="70" y="437.4" text-anchor="end" class="tc">9.0×10<tspan dy="-5.5" style="font-size:9.5px">6</tspan></text>
<text x="70.6" y="501.3" text-anchor="end" class="tc">0</text>
<text x="142.2" y="540.4" class="ttl">Concentration</text>
<text x="269.3" y="540.4" class="ttl">(mg/L)</text>
<text transform="translate(11.8,398.3) rotate(-90)" text-anchor="middle" class="ttl">Area</text>
<path d="M84.6,497.01 L380.1,389.78" stroke="#9a9a9a" stroke-width="1.1"/>
<path d="M84.6,496.71 L380.1,381.57" stroke="#34406e" stroke-width="1.1"/>
<path d="M84.6,497.10 L380.1,368.82" stroke="#222" stroke-width="1.1"/>
<path d="M84.6,498.48 L380.1,313.14" stroke="#b03a48" stroke-width="1.1"/>
<rect x="80.8" y="493.0" width="7.6" height="7.6" fill="none" stroke="#8a8a8a" stroke-width="1.9"/>
<rect x="82.0" y="492.8" width="7.6" height="7.6" fill="none" stroke="#8a8a8a" stroke-width="1.9"/>
<rect x="92.6" y="488.9" width="7.6" height="7.6" fill="none" stroke="#8a8a8a" stroke-width="1.9"/>
<rect x="139.9" y="471.8" width="7.6" height="7.6" fill="none" stroke="#8a8a8a" stroke-width="1.9"/>
<rect x="228.5" y="439.6" width="7.6" height="7.6" fill="none" stroke="#8a8a8a" stroke-width="1.9"/>
<rect x="376.3" y="386.0" width="7.6" height="7.6" fill="none" stroke="#8a8a8a" stroke-width="1.9"/>
<path d="M84.6,493.2 L87.7,499.5 L81.5,499.5 Z" fill="none" stroke="#243272" stroke-width="1.9" stroke-linejoin="miter"/>
<path d="M85.8,492.7 L88.9,499.0 L82.7,499.0 Z" fill="none" stroke="#243272" stroke-width="1.9" stroke-linejoin="miter"/>
<path d="M96.4,488.5 L99.5,494.8 L93.3,494.8 Z" fill="none" stroke="#243272" stroke-width="1.9" stroke-linejoin="miter"/>
<path d="M143.7,470.1 L146.8,476.4 L140.6,476.4 Z" fill="none" stroke="#243272" stroke-width="1.9" stroke-linejoin="miter"/>
<path d="M232.3,435.5 L235.4,441.8 L229.2,441.8 Z" fill="none" stroke="#243272" stroke-width="1.9" stroke-linejoin="miter"/>
<path d="M380.1,378.0 L383.2,384.3 L377.0,384.3 Z" fill="none" stroke="#243272" stroke-width="1.9" stroke-linejoin="miter"/>
<path d="M84.6,493.1 L88.3,496.8 L84.6,500.5 L80.9,496.8 Z" fill="none" stroke="#111111" stroke-width="2"/>
<path d="M85.8,492.9 L89.5,496.6 L85.8,500.3 L82.1,496.6 Z" fill="none" stroke="#111111" stroke-width="2"/>
<path d="M96.4,488.3 L100.1,492.0 L96.4,495.7 L92.7,492.0 Z" fill="none" stroke="#111111" stroke-width="2"/>
<path d="M143.7,467.7 L147.4,471.4 L143.7,475.1 L140.0,471.4 Z" fill="none" stroke="#111111" stroke-width="2"/>
<path d="M232.3,429.3 L236.0,433.0 L232.3,436.7 L228.7,433.0 Z" fill="none" stroke="#111111" stroke-width="2"/>
<path d="M380.1,365.1 L383.8,368.8 L380.1,372.5 L376.4,368.8 Z" fill="none" stroke="#111111" stroke-width="2"/>
<circle cx="84.6" cy="496.8" r="3.8" fill="#8a3444" stroke="#922434" stroke-width="2"/>
<circle cx="85.8" cy="497.7" r="3.8" fill="#8a3444" stroke="#922434" stroke-width="2"/>
<circle cx="96.4" cy="491.1" r="3.8" fill="#d8a0a8" stroke="#922434" stroke-width="2"/>
<circle cx="143.7" cy="461.4" r="3.8" fill="none" stroke="#922434" stroke-width="2"/>
<circle cx="232.3" cy="405.8" r="3.8" fill="none" stroke="#922434" stroke-width="2"/>
<circle cx="380.1" cy="313.1" r="3.8" fill="none" stroke="#922434" stroke-width="2"/>
<rect x="93.6" y="299.5" width="135.7" height="81.6" fill="#fff" stroke="#333" stroke-width="1.1"/>
<path d="M103.1,312.5 H124.1" stroke="#b03a48" stroke-width="1.1"/>
<circle cx="113.6" cy="312.5" r="3.8" fill="none" stroke="#922434" stroke-width="2"/>
<text x="136.5" y="316.9" class="leg2">Adenine</text>
<path d="M103.1,330.8 H124.1" stroke="#222" stroke-width="1.1"/>
<path d="M113.6,327.1 L117.3,330.8 L113.6,334.5 L109.9,330.8 Z" fill="none" stroke="#111111" stroke-width="2"/>
<text x="136.5" y="335.2" class="leg2">Guanine</text>
<path d="M103.1,350.3 H124.1" stroke="#34406e" stroke-width="1.1"/>
<path d="M113.6,346.7 L116.7,353.0 L110.5,353.0 Z" fill="none" stroke="#243272" stroke-width="1.9" stroke-linejoin="miter"/>
<text x="136.5" y="354.7" class="leg2">Xanthine</text>
<path d="M103.1,368.7 H124.1" stroke="#9a9a9a" stroke-width="1.1"/>
<rect x="109.8" y="364.9" width="7.6" height="7.6" fill="none" stroke="#8a8a8a" stroke-width="1.9"/>
<text x="136.5" y="373.1" class="leg2">Hypoxanthine</text>
<path d="M399.6,325.6 H786 M399.6,360 H786 M399.6,495 H786" stroke="#333" stroke-width="1.6"/>
<text x="465" y="348" text-anchor="middle" class="tab">Purine</text>
<text x="621.3" y="348" text-anchor="middle" class="tab">Equation</text>
<text x="756" y="348" text-anchor="middle" class="tab">R²</text>
<text x="465" y="382.6" text-anchor="middle" class="tab">Adenine</text>
<text x="621.3" y="382.6" text-anchor="middle" class="tab">Y = 101558*X - 189199</text>
<text x="756" y="382.6" text-anchor="middle" class="tab">0.9999</text>
<text x="465" y="416.0" text-anchor="middle" class="tab">Hypoxanthine</text>
<text x="621.3" y="416.0" text-anchor="middle" class="tab">Y = 58756*X + 12943</text>
<text x="756" y="416.0" text-anchor="middle" class="tab">1.000</text>
<text x="465" y="450.0" text-anchor="middle" class="tab">Xanthine</text>
<text x="621.3" y="450.0" text-anchor="middle" class="tab">Y = 63092*X + 53047</text>
<text x="756" y="450.0" text-anchor="middle" class="tab">0.9999</text>
<text x="465" y="484.2" text-anchor="middle" class="tab">Guanine</text>
<text x="621.3" y="484.2" text-anchor="middle" class="tab">Y = 70287*X + 684.5</text>
<text x="756" y="484.2" text-anchor="middle" class="tab">1.000</text>
</svg></body></html>
